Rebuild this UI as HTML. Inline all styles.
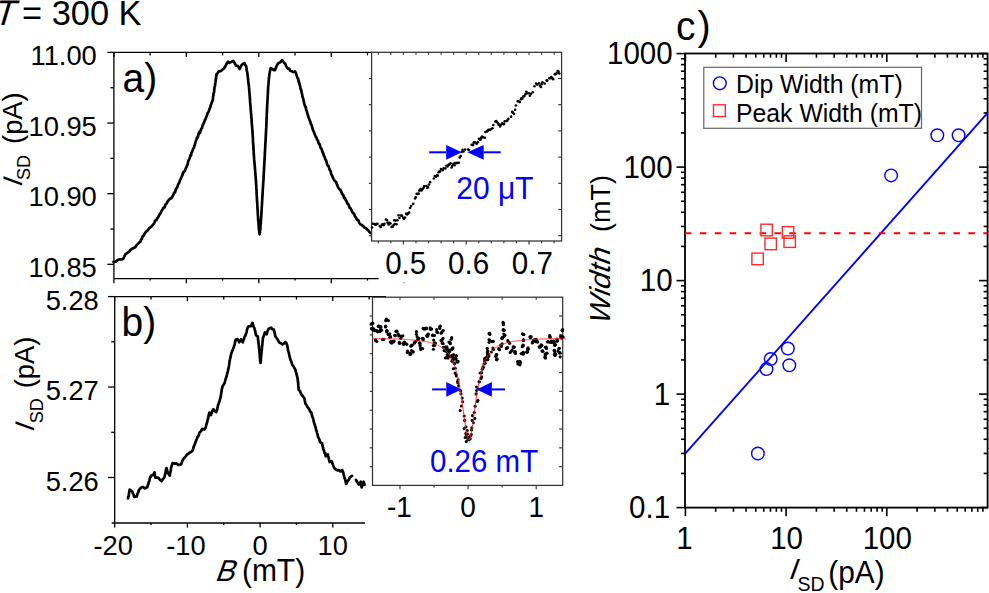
<!DOCTYPE html>
<html><head><meta charset="utf-8"><style>
html,body{margin:0;padding:0;background:#fff;overflow:hidden;}
svg{display:block;font-family:"Liberation Sans", sans-serif;}
</style></head><body>
<svg width="989" height="593" viewBox="0 0 989 593">
<line x1="113.90" y1="52.40" x2="371.80" y2="52.40" stroke="#000" stroke-width="1.4" />
<line x1="113.90" y1="52.40" x2="113.90" y2="278.60" stroke="#000" stroke-width="1.3" />
<line x1="113.90" y1="278.60" x2="378.60" y2="278.60" stroke="#000" stroke-width="1.3" />
<line x1="107.30" y1="52.40" x2="113.90" y2="52.40" stroke="#000" stroke-width="1.3" />
<line x1="107.30" y1="123.04" x2="113.90" y2="123.04" stroke="#000" stroke-width="1.3" />
<line x1="107.30" y1="193.67" x2="113.90" y2="193.67" stroke="#000" stroke-width="1.3" />
<line x1="107.30" y1="264.31" x2="113.90" y2="264.31" stroke="#000" stroke-width="1.3" />
<line x1="110.40" y1="87.72" x2="113.90" y2="87.72" stroke="#000" stroke-width="1.3" />
<line x1="110.40" y1="158.35" x2="113.90" y2="158.35" stroke="#000" stroke-width="1.3" />
<line x1="110.40" y1="228.99" x2="113.90" y2="228.99" stroke="#000" stroke-width="1.3" />
<line x1="113.90" y1="52.40" x2="113.90" y2="56.90" stroke="#000" stroke-width="1.3" />
<line x1="113.90" y1="278.60" x2="113.90" y2="283.20" stroke="#000" stroke-width="1.3" />
<line x1="150.12" y1="52.40" x2="150.12" y2="55.40" stroke="#000" stroke-width="1.3" />
<line x1="150.12" y1="278.60" x2="150.12" y2="280.60" stroke="#000" stroke-width="1.3" />
<line x1="186.35" y1="52.40" x2="186.35" y2="56.90" stroke="#000" stroke-width="1.3" />
<line x1="186.35" y1="278.60" x2="186.35" y2="283.20" stroke="#000" stroke-width="1.3" />
<line x1="222.57" y1="52.40" x2="222.57" y2="55.40" stroke="#000" stroke-width="1.3" />
<line x1="222.57" y1="278.60" x2="222.57" y2="280.60" stroke="#000" stroke-width="1.3" />
<line x1="258.80" y1="52.40" x2="258.80" y2="56.90" stroke="#000" stroke-width="1.3" />
<line x1="258.80" y1="278.60" x2="258.80" y2="283.20" stroke="#000" stroke-width="1.3" />
<line x1="295.02" y1="52.40" x2="295.02" y2="55.40" stroke="#000" stroke-width="1.3" />
<line x1="295.02" y1="278.60" x2="295.02" y2="280.60" stroke="#000" stroke-width="1.3" />
<line x1="331.25" y1="52.40" x2="331.25" y2="56.90" stroke="#000" stroke-width="1.3" />
<line x1="331.25" y1="278.60" x2="331.25" y2="283.20" stroke="#000" stroke-width="1.3" />
<line x1="367.48" y1="52.40" x2="367.48" y2="55.40" stroke="#000" stroke-width="1.3" />
<line x1="367.48" y1="278.60" x2="367.48" y2="280.60" stroke="#000" stroke-width="1.3" />
<text transform="translate(96.80,65.00) scale(1,1.04)" font-size="27.3" text-anchor="end" fill="#000" >11.00</text>
<text transform="translate(96.80,135.64) scale(1,1.04)" font-size="27.3" text-anchor="end" fill="#000" >10.95</text>
<text transform="translate(96.80,206.27) scale(1,1.04)" font-size="27.3" text-anchor="end" fill="#000" >10.90</text>
<text transform="translate(96.80,276.91) scale(1,1.04)" font-size="27.3" text-anchor="end" fill="#000" >10.85</text>
<text transform="translate(122.50,92.00) scale(1,1.04)" font-size="39" text-anchor="start" fill="#000" >a)</text>
<text transform="translate(21.90,187.90) rotate(-90) skewX(-20) scale(1,1.0)" font-size="27">I</text>
<text transform="translate(30.30,180.10) rotate(-90) scale(1,1.04)" font-size="18">SD</text>
<text transform="translate(22.20,143.90) rotate(-90)" font-size="27.3">(pA)</text>
<text transform="translate(-7.7,25.0) skewX(-16.5) scale(1,1.04)" font-size="34.4">T</text>
<text transform="translate(22.00,24.60) scale(1,1.04)" font-size="34.4" text-anchor="start" fill="#000" >= 300 K</text>
<polyline points="113.50,261.93 115.80,261.57 118.10,259.78 120.10,259.23 122.10,259.41 123.13,258.82 124.17,256.77 125.20,254.58 126.45,253.52 127.70,252.64 128.95,251.90 130.20,250.11 131.90,248.92 133.60,247.99 135.30,247.21 136.55,245.19 137.80,244.07 139.05,242.69 140.30,241.90 141.12,239.57 141.94,238.70 142.76,236.20 143.58,235.80 144.40,234.00 145.60,232.21 146.80,231.06 148.00,230.14 149.20,228.06 150.40,227.37 151.62,226.24 152.84,224.89 154.06,223.49 155.28,220.53 156.50,220.00 157.32,218.03 158.14,217.49 158.96,215.60 159.78,214.26 160.60,212.97 161.60,210.78 162.60,209.53 163.60,207.47 164.60,207.36 165.60,204.37 166.82,203.21 168.04,200.83 169.26,199.56 170.48,198.49 171.70,197.95 172.53,196.42 173.37,194.64 174.20,192.62 175.03,192.45 175.87,189.38 176.70,187.96 177.38,187.00 178.07,184.52 178.75,183.51 179.43,182.21 180.12,179.97 180.80,178.54 181.63,176.82 182.47,174.92 183.30,172.06 184.13,171.59 184.97,170.73 185.80,168.33 186.38,167.18 186.96,165.85 187.54,164.72 188.12,161.52 188.70,160.23 189.27,159.12 189.85,157.75 190.43,155.20 191.00,155.43 191.57,152.45 192.15,151.96 192.73,149.74 193.30,148.54 193.93,147.52 194.57,145.30 195.20,143.29 195.83,140.97 196.47,139.46 197.10,137.35 197.79,137.71 198.47,134.28 199.16,132.22 199.85,133.01 200.54,131.31 201.22,128.92 201.91,128.07 202.60,125.67 203.16,124.31 203.72,123.39 204.28,121.83 204.84,119.87 205.40,119.50 206.14,117.36 206.88,115.37 207.62,113.00 208.36,112.05 209.10,110.15 209.63,108.69 210.16,107.58 210.69,105.25 211.21,104.12 211.74,102.82 212.27,101.00 212.80,100.47 213.07,96.54 213.34,95.73 213.61,93.39 213.89,92.27 214.16,91.95 214.43,87.95 214.70,86.96 214.96,85.75 215.21,83.71 215.47,82.43 215.73,79.35 215.99,79.01 216.24,76.22 216.50,74.35 217.45,73.48 218.40,71.58 221.20,70.92 222.60,69.52 224.00,68.51 224.90,67.04 225.80,65.39 226.70,63.36 228.10,61.75 229.50,62.83 231.35,61.91 233.20,60.84 234.13,62.09 235.07,64.00 236.00,65.59 237.85,65.85 239.70,68.98 240.63,67.01 241.57,65.17 242.50,64.10 244.40,63.14 245.30,65.09 246.20,66.09 246.53,68.80 246.87,71.06 247.20,72.14 247.40,73.71 247.60,75.12 247.80,77.12 248.00,78.49 248.20,80.54 248.40,82.34 248.60,84.11 248.80,84.83 249.00,87.70 249.13,88.55 249.25,90.26 249.38,91.65 249.51,92.44 249.63,95.28 249.76,95.78 249.89,98.96 250.01,99.98 250.14,102.42 250.27,103.53 250.39,105.17 250.52,107.15 250.65,107.97 250.77,110.44 250.90,111.14 251.02,112.95 251.14,114.05 251.26,116.32 251.38,118.00 251.50,118.96 251.62,120.15 251.74,122.43 251.86,124.29 251.98,125.58 252.10,126.74 252.22,128.48 252.34,130.34 252.46,130.66 252.58,133.38 252.70,136.09 252.80,136.25 252.90,138.48 253.00,141.17 253.10,142.28 253.20,144.04 253.30,145.11 253.40,146.11 253.50,150.05 253.60,150.29 253.70,151.90 253.80,154.32 253.90,155.51 254.00,156.74 254.10,157.75 254.20,159.92 254.35,161.61 254.49,163.00 254.64,164.58 254.78,166.18 254.93,168.35 255.07,169.77 255.22,172.00 255.36,174.01 255.51,175.31 255.65,176.83 255.80,179.36 255.89,180.52 255.98,181.00 256.08,183.07 256.17,185.23 256.26,186.29 256.35,188.84 256.45,189.12 256.54,190.69 256.63,193.92 256.72,195.36 256.82,195.82 256.91,198.39 257.00,200.74 257.10,201.09 257.20,202.75 257.30,204.44 257.40,206.26 257.50,207.55 257.60,209.94 257.70,211.11 257.80,213.64 257.90,216.53 258.00,216.43 258.12,219.12 258.25,220.89 258.38,220.61 258.50,223.56 258.62,225.12 258.75,226.57 258.88,228.81 259.00,229.76 259.30,232.49 259.60,234.39 259.90,232.23 260.20,229.57 260.32,229.62 260.45,226.72 260.57,224.51 260.70,224.57 260.82,222.74 260.95,220.14 261.07,218.27 261.20,216.60 261.30,215.95 261.40,213.37 261.50,211.43 261.60,210.55 261.70,208.22 261.80,206.61 261.90,205.97 262.00,203.66 262.10,202.14 262.20,199.96 262.30,198.71 262.40,196.28 262.50,195.28 262.60,193.70 262.70,191.28 262.80,189.17 262.90,188.54 263.00,186.56 263.10,185.33 263.20,183.05 263.30,182.04 263.40,180.65 263.50,179.80 263.59,177.80 263.69,175.36 263.78,174.25 263.87,171.44 263.96,170.75 264.06,168.51 264.15,167.48 264.24,165.26 264.34,163.27 264.43,161.33 264.52,160.72 264.61,158.39 264.71,157.07 264.80,155.26 264.89,152.24 264.97,152.04 265.06,149.86 265.15,148.63 265.23,147.03 265.32,144.13 265.41,143.30 265.49,141.79 265.58,140.39 265.67,139.05 265.75,136.51 265.84,135.11 265.93,133.94 266.01,130.94 266.10,131.32 266.17,128.10 266.25,127.65 266.32,125.32 266.39,124.59 266.47,122.44 266.54,120.16 266.61,117.57 266.69,116.88 266.76,115.30 266.83,113.73 266.91,111.06 266.98,109.61 267.05,107.95 267.13,106.84 267.20,104.53 267.29,103.29 267.38,102.23 267.48,99.85 267.57,99.17 267.66,96.95 267.75,95.02 267.84,94.11 267.93,92.14 268.02,90.07 268.12,88.26 268.21,86.92 268.30,85.49 268.47,84.17 268.64,81.93 268.81,79.69 268.99,77.55 269.16,76.65 269.33,74.97 269.50,73.62 269.97,70.95 270.43,68.76 270.90,68.16 272.50,69.21 274.10,70.24 274.90,70.21 275.70,68.19 276.50,66.14 277.30,64.65 278.90,62.69 280.50,62.24 282.10,60.06 283.17,61.45 284.23,62.94 285.30,63.88 286.26,66.34 287.22,67.97 288.18,68.76 289.14,68.50 290.10,70.73 291.73,71.09 293.37,72.17 295.00,71.33 295.80,72.92 296.60,75.45 297.40,77.84 298.20,78.80 298.60,81.71 299.00,81.64 299.40,83.72 299.80,85.22 300.20,86.45 300.60,89.11 301.00,89.38 301.40,91.12 301.80,93.12 302.20,94.66 302.60,97.16 303.00,97.86 303.40,100.04 303.80,101.12 304.20,103.69 304.60,104.59 305.13,106.38 305.66,106.99 306.19,109.91 306.72,110.81 307.25,113.29 307.78,114.72 308.31,116.38 308.84,118.34 309.37,119.57 309.90,120.52 310.53,122.80 311.16,124.52 311.79,125.50 312.41,128.19 313.04,130.37 313.67,131.42 314.30,133.06 314.98,134.77 315.65,136.63 316.32,137.24 317.00,139.57 317.68,140.16 318.35,142.37 319.02,143.87 319.70,144.40 320.33,147.03 320.96,148.36 321.59,148.90 322.21,151.14 322.84,152.62 323.47,154.04 324.10,156.33 324.73,157.23 325.36,159.24 325.99,160.18 326.61,162.19 327.24,164.88 327.87,165.67 328.50,166.15 329.19,168.14 329.88,170.22 330.56,171.06 331.25,174.13 331.94,175.23 332.62,176.86 333.31,178.58 334.00,179.83 334.94,181.13 335.89,181.62 336.83,183.99 337.77,186.56 338.71,188.36 339.66,189.44 340.60,190.10 341.48,192.46 342.36,194.20 343.24,195.01 344.12,198.01 345.00,198.19 345.77,200.21 346.54,201.03 347.31,203.54 348.09,203.77 348.86,205.38 349.63,207.89 350.40,208.01 351.32,209.87 352.23,211.93 353.15,213.29 354.07,213.61 354.98,216.36 355.90,217.34 357.00,219.79 358.10,219.80 359.20,222.79 360.30,224.22 361.68,224.89 363.05,225.97 364.43,227.51 365.80,228.02 367.00,229.36 368.20,230.28 369.40,231.92 370.60,233.00" fill="none" stroke="#000" stroke-width="2.7" stroke-linejoin="round" stroke-linecap="round" />
<line x1="114.70" y1="296.60" x2="386.00" y2="296.60" stroke="#000" stroke-width="1.4" />
<line x1="114.70" y1="296.60" x2="114.70" y2="523.00" stroke="#000" stroke-width="1.3" />
<line x1="111.70" y1="523.00" x2="365.00" y2="523.00" stroke="#000" stroke-width="1.3" />
<line x1="108.10" y1="296.60" x2="114.70" y2="296.60" stroke="#000" stroke-width="1.3" />
<line x1="108.10" y1="387.05" x2="114.70" y2="387.05" stroke="#000" stroke-width="1.3" />
<line x1="108.10" y1="477.50" x2="114.70" y2="477.50" stroke="#000" stroke-width="1.3" />
<line x1="111.20" y1="341.82" x2="114.70" y2="341.82" stroke="#000" stroke-width="1.3" />
<line x1="111.20" y1="432.28" x2="114.70" y2="432.28" stroke="#000" stroke-width="1.3" />
<line x1="114.70" y1="296.60" x2="114.70" y2="301.10" stroke="#000" stroke-width="1.3" />
<line x1="114.70" y1="523.00" x2="114.70" y2="527.60" stroke="#000" stroke-width="1.3" />
<line x1="151.05" y1="296.60" x2="151.05" y2="299.60" stroke="#000" stroke-width="1.3" />
<line x1="151.05" y1="523.00" x2="151.05" y2="525.00" stroke="#000" stroke-width="1.3" />
<line x1="187.40" y1="296.60" x2="187.40" y2="301.10" stroke="#000" stroke-width="1.3" />
<line x1="187.40" y1="523.00" x2="187.40" y2="527.60" stroke="#000" stroke-width="1.3" />
<line x1="223.75" y1="296.60" x2="223.75" y2="299.60" stroke="#000" stroke-width="1.3" />
<line x1="223.75" y1="523.00" x2="223.75" y2="525.00" stroke="#000" stroke-width="1.3" />
<line x1="260.10" y1="296.60" x2="260.10" y2="301.10" stroke="#000" stroke-width="1.3" />
<line x1="260.10" y1="523.00" x2="260.10" y2="527.60" stroke="#000" stroke-width="1.3" />
<line x1="296.45" y1="296.60" x2="296.45" y2="299.60" stroke="#000" stroke-width="1.3" />
<line x1="296.45" y1="523.00" x2="296.45" y2="525.00" stroke="#000" stroke-width="1.3" />
<line x1="332.80" y1="296.60" x2="332.80" y2="301.10" stroke="#000" stroke-width="1.3" />
<line x1="332.80" y1="523.00" x2="332.80" y2="527.60" stroke="#000" stroke-width="1.3" />
<line x1="369.15" y1="296.60" x2="369.15" y2="299.60" stroke="#000" stroke-width="1.3" />
<text transform="translate(98.80,309.80) scale(1,1.04)" font-size="27.3" text-anchor="end" fill="#000" >5.28</text>
<text transform="translate(98.80,400.25) scale(1,1.04)" font-size="27.3" text-anchor="end" fill="#000" >5.27</text>
<text transform="translate(98.80,490.70) scale(1,1.04)" font-size="27.3" text-anchor="end" fill="#000" >5.26</text>
<text transform="translate(121.50,336.00) scale(1,1.04)" font-size="39" text-anchor="start" fill="#000" >b</text>
<text transform="translate(143.20,336.00) scale(1,1.04)" font-size="39" text-anchor="start" fill="#000" >)</text>
<text transform="translate(33.90,432.90) rotate(-90) skewX(-20) scale(1,1.0)" font-size="27">I</text>
<text transform="translate(42.50,423.30) rotate(-90) scale(1,1.04)" font-size="18">SD</text>
<text transform="translate(34.30,388.30) rotate(-90)" font-size="27.3">(pA)</text>
<text transform="translate(113.20,555.00) scale(1,1.04)" font-size="27.3" text-anchor="middle" fill="#000" >-20</text>
<text transform="translate(185.90,555.00) scale(1,1.04)" font-size="27.3" text-anchor="middle" fill="#000" >-10</text>
<text transform="translate(260.10,555.00) scale(1,1.04)" font-size="27.3" text-anchor="middle" fill="#000" >0</text>
<text transform="translate(332.80,555.00) scale(1,1.04)" font-size="27.3" text-anchor="middle" fill="#000" >10</text>
<text transform="translate(214.3,580.5) skewX(-20) scale(1,1.04)" font-size="29">B</text>
<text transform="translate(241.90,580.80) scale(1,1.04)" font-size="30" text-anchor="start" fill="#000" >(mT)</text>
<polyline points="128.00,498.44 128.34,496.38 128.68,496.30 129.02,493.16 129.36,491.25 129.70,489.61 131.05,490.46 132.40,491.66 133.00,493.75 133.60,494.79 134.20,496.88 136.80,496.40 137.34,494.24 137.88,493.04 138.42,491.84 138.96,489.88 139.50,489.36 140.80,487.91 142.10,487.14 143.45,487.19 144.80,488.39 146.10,487.87 147.40,487.05 147.85,484.75 148.30,484.48 148.75,482.01 149.20,481.40 149.65,479.23 150.10,477.70 151.00,475.96 151.90,475.14 153.20,475.03 154.50,472.30 154.95,475.52 155.40,477.63 158.10,477.72 159.85,479.73 161.60,481.16 162.90,479.06 164.20,477.65 164.57,476.79 164.93,474.80 165.30,474.00 165.67,471.57 166.03,469.19 166.40,468.08 166.87,469.04 167.33,471.46 167.80,472.93 168.70,474.16 169.60,475.68 169.94,474.76 170.28,472.40 170.62,471.40 170.96,468.60 171.30,467.17 171.90,465.24 172.50,463.21 173.10,463.19 174.85,463.60 176.60,463.41 178.40,464.98 180.20,464.65 180.90,464.67 181.60,463.17 182.30,461.08 183.00,459.66 183.70,458.52 184.80,457.52 185.90,456.03 187.00,454.70 188.10,453.88 189.60,452.60 191.10,451.97 192.60,450.44 193.18,448.90 193.77,446.38 194.35,445.37 194.93,443.75 195.52,442.08 196.10,440.65 196.80,438.96 197.50,436.78 198.20,436.35 198.90,434.74 199.60,432.46 200.95,431.25 202.30,428.77 204.60,429.51 205.12,428.46 205.65,427.74 206.17,425.41 206.70,423.19 207.09,422.51 207.47,420.61 207.86,419.03 208.24,418.02 208.63,415.51 209.01,413.98 209.40,412.62 210.90,415.03 211.55,413.16 212.20,411.43 212.85,409.99 213.50,409.23 214.85,411.26 216.20,412.07 216.65,410.79 217.10,410.04 217.55,407.46 218.00,405.26 218.52,403.98 219.04,402.27 219.56,400.94 220.08,399.19 220.60,397.19 220.86,395.72 221.11,394.32 221.37,392.17 221.63,390.89 221.89,388.78 222.14,388.15 222.40,386.66 224.20,383.71 224.63,383.04 225.07,381.24 225.50,379.72 225.93,378.07 226.37,376.83 226.80,375.70 227.25,372.90 227.70,372.20 228.15,369.85 228.60,367.71 228.82,366.65 229.05,365.43 229.28,363.53 229.50,362.16 229.80,360.38 230.10,358.81 230.40,358.05 230.70,355.65 231.00,355.08 231.30,353.28 232.15,351.19 233.00,349.42 233.45,347.92 233.90,346.58 234.35,345.10 234.80,343.59 235.25,341.28 235.70,339.73 237.50,339.09 238.35,340.43 239.20,342.26 240.10,341.10 241.00,339.31 242.80,342.35 243.45,340.08 244.10,338.44 244.75,336.48 245.40,335.84 245.85,334.22 246.30,333.02 246.75,331.20 247.20,328.85 248.10,326.83 249.00,326.27 250.80,326.21 251.65,324.73 252.50,322.95 253.10,325.03 253.70,326.82 254.30,327.84 254.75,329.80 255.20,331.07 255.65,333.91 256.10,335.35 257.80,336.34 257.99,339.27 258.18,340.46 258.36,341.64 258.55,343.58 258.74,345.17 258.93,347.15 259.11,348.86 259.30,350.16 259.45,352.29 259.60,352.54 259.75,355.26 259.90,357.38 260.05,359.18 260.20,360.78 260.35,361.58 260.50,362.94 260.65,361.91 260.80,361.46 260.95,358.86 261.10,356.73 261.25,354.64 261.40,353.82 261.55,351.88 261.70,350.66 261.87,348.95 262.03,346.20 262.20,345.67 262.37,344.52 262.53,342.32 262.70,340.47 262.87,338.92 263.03,337.28 263.20,337.34 264.05,335.18 264.90,332.44 266.70,334.26 267.30,331.66 267.90,330.44 268.50,328.88 269.80,328.23 271.10,327.73 272.45,329.26 273.80,329.56 274.16,330.75 274.52,332.45 274.88,333.86 275.24,335.71 275.60,336.72 277.30,339.04 278.20,340.60 279.10,342.29 280.00,342.94 282.60,344.41 283.95,343.50 285.30,342.14 286.20,342.91 287.10,344.86 287.44,347.12 287.78,348.19 288.12,350.97 288.46,351.78 288.80,352.79 289.25,354.85 289.70,356.88 290.15,358.66 290.60,360.11 291.50,362.20 292.40,365.11 293.30,365.94 293.95,367.14 294.60,368.40 295.25,369.35 295.90,371.80 296.35,373.30 296.80,375.25 297.25,376.79 297.70,379.17 297.84,380.87 297.99,381.61 298.13,382.86 298.27,385.19 298.41,387.24 298.56,388.35 298.70,389.94 299.67,390.67 300.63,392.66 301.60,394.78 302.57,395.99 303.53,397.11 304.50,398.68 304.83,400.74 305.17,402.32 305.50,403.89 306.47,404.87 307.43,406.91 308.40,408.04 309.37,409.63 310.33,411.82 311.30,412.61 311.77,414.49 312.25,416.61 312.73,417.61 313.20,418.73 313.70,421.16 314.20,423.49 314.70,424.54 315.20,426.40 315.68,427.37 316.15,430.46 316.62,430.81 317.10,433.01 317.58,434.68 318.07,437.10 318.55,437.72 319.03,438.79 319.52,439.88 320.00,441.87 322.00,443.35 322.48,445.33 322.95,447.34 323.42,449.57 323.90,450.21 324.53,452.94 325.17,453.03 325.80,456.40 327.80,454.32 328.18,455.98 328.56,457.48 328.94,459.34 329.32,460.75 329.70,462.16 331.60,461.09 332.20,462.70 332.80,464.52 333.40,465.79 334.00,467.26 334.60,468.45 336.05,469.63 337.50,470.34 338.95,470.10 340.40,471.47 342.30,470.10 342.77,471.61 343.25,472.24 343.73,474.74 344.20,476.49 344.60,478.34 345.00,478.71 345.40,480.51 345.80,482.41 346.20,483.85 347.15,481.87 348.10,480.74 349.05,479.26 350.00,477.17 352.00,475.90" fill="none" stroke="#000" stroke-width="2.7" stroke-linejoin="round" stroke-linecap="round" />
<polyline points="355.90,479.80 358.80,484.60 360.70,481.70 361.70,487.50 363.60,481.70 364.60,484.60" fill="none" stroke="#000" stroke-width="2.7" stroke-linejoin="round" stroke-linecap="round" />
<rect x="371.6" y="52.3" width="190.0" height="188.7" fill="#fff" stroke="#333" stroke-width="1.25"/>
<line x1="378.28" y1="52.30" x2="378.28" y2="54.80" stroke="#333" stroke-width="1.15" />
<line x1="378.28" y1="241.00" x2="378.28" y2="243.20" stroke="#333" stroke-width="1.15" />
<line x1="390.84" y1="52.30" x2="390.84" y2="54.80" stroke="#333" stroke-width="1.15" />
<line x1="390.84" y1="241.00" x2="390.84" y2="243.20" stroke="#333" stroke-width="1.15" />
<line x1="403.40" y1="52.30" x2="403.40" y2="54.80" stroke="#333" stroke-width="1.15" />
<line x1="403.40" y1="241.00" x2="403.40" y2="244.50" stroke="#333" stroke-width="1.15" />
<line x1="415.96" y1="52.30" x2="415.96" y2="54.80" stroke="#333" stroke-width="1.15" />
<line x1="415.96" y1="241.00" x2="415.96" y2="243.20" stroke="#333" stroke-width="1.15" />
<line x1="428.52" y1="52.30" x2="428.52" y2="54.80" stroke="#333" stroke-width="1.15" />
<line x1="428.52" y1="241.00" x2="428.52" y2="243.20" stroke="#333" stroke-width="1.15" />
<line x1="441.08" y1="52.30" x2="441.08" y2="54.80" stroke="#333" stroke-width="1.15" />
<line x1="441.08" y1="241.00" x2="441.08" y2="243.20" stroke="#333" stroke-width="1.15" />
<line x1="453.64" y1="52.30" x2="453.64" y2="54.80" stroke="#333" stroke-width="1.15" />
<line x1="453.64" y1="241.00" x2="453.64" y2="243.20" stroke="#333" stroke-width="1.15" />
<line x1="466.20" y1="52.30" x2="466.20" y2="54.80" stroke="#333" stroke-width="1.15" />
<line x1="466.20" y1="241.00" x2="466.20" y2="244.50" stroke="#333" stroke-width="1.15" />
<line x1="478.76" y1="52.30" x2="478.76" y2="54.80" stroke="#333" stroke-width="1.15" />
<line x1="478.76" y1="241.00" x2="478.76" y2="243.20" stroke="#333" stroke-width="1.15" />
<line x1="491.32" y1="52.30" x2="491.32" y2="54.80" stroke="#333" stroke-width="1.15" />
<line x1="491.32" y1="241.00" x2="491.32" y2="243.20" stroke="#333" stroke-width="1.15" />
<line x1="503.88" y1="52.30" x2="503.88" y2="54.80" stroke="#333" stroke-width="1.15" />
<line x1="503.88" y1="241.00" x2="503.88" y2="243.20" stroke="#333" stroke-width="1.15" />
<line x1="516.44" y1="52.30" x2="516.44" y2="54.80" stroke="#333" stroke-width="1.15" />
<line x1="516.44" y1="241.00" x2="516.44" y2="243.20" stroke="#333" stroke-width="1.15" />
<line x1="529.00" y1="52.30" x2="529.00" y2="54.80" stroke="#333" stroke-width="1.15" />
<line x1="529.00" y1="241.00" x2="529.00" y2="244.50" stroke="#333" stroke-width="1.15" />
<line x1="541.56" y1="52.30" x2="541.56" y2="54.80" stroke="#333" stroke-width="1.15" />
<line x1="541.56" y1="241.00" x2="541.56" y2="243.20" stroke="#333" stroke-width="1.15" />
<line x1="554.12" y1="52.30" x2="554.12" y2="54.80" stroke="#333" stroke-width="1.15" />
<line x1="554.12" y1="241.00" x2="554.12" y2="243.20" stroke="#333" stroke-width="1.15" />
<line x1="368.80" y1="78.50" x2="371.60" y2="78.50" stroke="#333" stroke-width="1.15" />
<line x1="558.20" y1="78.50" x2="561.60" y2="78.50" stroke="#333" stroke-width="1.15" />
<line x1="368.80" y1="104.70" x2="371.60" y2="104.70" stroke="#333" stroke-width="1.15" />
<line x1="558.20" y1="104.70" x2="561.60" y2="104.70" stroke="#333" stroke-width="1.15" />
<line x1="368.80" y1="130.90" x2="371.60" y2="130.90" stroke="#333" stroke-width="1.15" />
<line x1="558.20" y1="130.90" x2="561.60" y2="130.90" stroke="#333" stroke-width="1.15" />
<line x1="368.80" y1="157.10" x2="371.60" y2="157.10" stroke="#333" stroke-width="1.15" />
<line x1="558.20" y1="157.10" x2="561.60" y2="157.10" stroke="#333" stroke-width="1.15" />
<line x1="368.80" y1="183.30" x2="371.60" y2="183.30" stroke="#333" stroke-width="1.15" />
<line x1="558.20" y1="183.30" x2="561.60" y2="183.30" stroke="#333" stroke-width="1.15" />
<line x1="368.80" y1="209.50" x2="371.60" y2="209.50" stroke="#333" stroke-width="1.15" />
<line x1="558.20" y1="209.50" x2="561.60" y2="209.50" stroke="#333" stroke-width="1.15" />
<line x1="368.80" y1="235.70" x2="371.60" y2="235.70" stroke="#333" stroke-width="1.15" />
<line x1="558.20" y1="235.70" x2="561.60" y2="235.70" stroke="#333" stroke-width="1.15" />
<text transform="translate(405.70,274.00) scale(1,1.04)" font-size="29.6" text-anchor="middle" fill="#000" >0.5</text>
<text transform="translate(468.60,274.00) scale(1,1.04)" font-size="29.6" text-anchor="middle" fill="#000" >0.6</text>
<text transform="translate(532.30,274.00) scale(1,1.04)" font-size="29.6" text-anchor="middle" fill="#000" >0.7</text>
<circle cx="372.00" cy="227.50" r="1.3" fill="#000"/>
<circle cx="373.17" cy="223.84" r="1.3" fill="#000"/>
<circle cx="374.71" cy="224.09" r="1.3" fill="#000"/>
<circle cx="375.66" cy="224.81" r="1.3" fill="#000"/>
<circle cx="376.81" cy="224.11" r="1.3" fill="#000"/>
<circle cx="377.49" cy="223.86" r="1.3" fill="#000"/>
<circle cx="379.74" cy="226.00" r="1.3" fill="#000"/>
<circle cx="380.74" cy="227.06" r="1.3" fill="#000"/>
<circle cx="381.92" cy="224.66" r="1.3" fill="#000"/>
<circle cx="382.62" cy="224.52" r="1.3" fill="#000"/>
<circle cx="383.58" cy="225.29" r="1.3" fill="#000"/>
<circle cx="384.37" cy="223.70" r="1.3" fill="#000"/>
<circle cx="385.87" cy="219.46" r="1.3" fill="#000"/>
<circle cx="386.95" cy="220.08" r="1.3" fill="#000"/>
<circle cx="387.57" cy="222.65" r="1.3" fill="#000"/>
<circle cx="388.63" cy="224.39" r="1.3" fill="#000"/>
<circle cx="389.44" cy="222.79" r="1.3" fill="#000"/>
<circle cx="390.49" cy="223.52" r="1.3" fill="#000"/>
<circle cx="391.66" cy="226.90" r="1.3" fill="#000"/>
<circle cx="392.81" cy="226.54" r="1.3" fill="#000"/>
<circle cx="393.59" cy="224.93" r="1.3" fill="#000"/>
<circle cx="394.28" cy="220.20" r="1.3" fill="#000"/>
<circle cx="394.91" cy="223.95" r="1.3" fill="#000"/>
<circle cx="395.66" cy="220.59" r="1.3" fill="#000"/>
<circle cx="396.51" cy="224.22" r="1.3" fill="#000"/>
<circle cx="397.40" cy="220.28" r="1.3" fill="#000"/>
<circle cx="398.57" cy="215.37" r="1.3" fill="#000"/>
<circle cx="399.44" cy="218.01" r="1.3" fill="#000"/>
<circle cx="401.18" cy="215.63" r="1.3" fill="#000"/>
<circle cx="401.95" cy="215.68" r="1.3" fill="#000"/>
<circle cx="403.15" cy="217.79" r="1.3" fill="#000"/>
<circle cx="403.95" cy="218.96" r="1.3" fill="#000"/>
<circle cx="405.07" cy="217.63" r="1.3" fill="#000"/>
<circle cx="406.09" cy="213.65" r="1.3" fill="#000"/>
<circle cx="407.11" cy="214.48" r="1.3" fill="#000"/>
<circle cx="408.12" cy="213.53" r="1.3" fill="#000"/>
<circle cx="409.07" cy="212.50" r="1.3" fill="#000"/>
<circle cx="410.08" cy="207.93" r="1.3" fill="#000"/>
<circle cx="411.15" cy="206.07" r="1.3" fill="#000"/>
<circle cx="413.26" cy="203.83" r="1.3" fill="#000"/>
<circle cx="415.07" cy="198.39" r="1.3" fill="#000"/>
<circle cx="415.77" cy="197.21" r="1.3" fill="#000"/>
<circle cx="416.62" cy="193.72" r="1.3" fill="#000"/>
<circle cx="417.66" cy="193.97" r="1.3" fill="#000"/>
<circle cx="418.65" cy="193.64" r="1.3" fill="#000"/>
<circle cx="419.27" cy="190.59" r="1.3" fill="#000"/>
<circle cx="419.95" cy="190.30" r="1.3" fill="#000"/>
<circle cx="420.57" cy="188.75" r="1.3" fill="#000"/>
<circle cx="421.53" cy="190.43" r="1.3" fill="#000"/>
<circle cx="422.37" cy="189.32" r="1.3" fill="#000"/>
<circle cx="423.47" cy="188.07" r="1.3" fill="#000"/>
<circle cx="424.13" cy="186.39" r="1.3" fill="#000"/>
<circle cx="426.29" cy="185.98" r="1.3" fill="#000"/>
<circle cx="427.22" cy="188.03" r="1.3" fill="#000"/>
<circle cx="428.04" cy="187.10" r="1.3" fill="#000"/>
<circle cx="428.97" cy="184.55" r="1.3" fill="#000"/>
<circle cx="430.11" cy="182.13" r="1.3" fill="#000"/>
<circle cx="433.83" cy="178.43" r="1.3" fill="#000"/>
<circle cx="434.80" cy="175.94" r="1.3" fill="#000"/>
<circle cx="435.89" cy="176.70" r="1.3" fill="#000"/>
<circle cx="437.06" cy="175.06" r="1.3" fill="#000"/>
<circle cx="437.75" cy="175.67" r="1.3" fill="#000"/>
<circle cx="438.63" cy="172.22" r="1.3" fill="#000"/>
<circle cx="439.30" cy="171.56" r="1.3" fill="#000"/>
<circle cx="440.11" cy="171.39" r="1.3" fill="#000"/>
<circle cx="440.92" cy="169.10" r="1.3" fill="#000"/>
<circle cx="442.60" cy="170.23" r="1.3" fill="#000"/>
<circle cx="443.55" cy="168.42" r="1.3" fill="#000"/>
<circle cx="445.41" cy="168.42" r="1.3" fill="#000"/>
<circle cx="446.51" cy="165.74" r="1.3" fill="#000"/>
<circle cx="447.58" cy="166.56" r="1.3" fill="#000"/>
<circle cx="448.51" cy="164.89" r="1.3" fill="#000"/>
<circle cx="449.46" cy="164.38" r="1.3" fill="#000"/>
<circle cx="450.55" cy="163.31" r="1.3" fill="#000"/>
<circle cx="451.59" cy="167.52" r="1.3" fill="#000"/>
<circle cx="452.22" cy="165.92" r="1.3" fill="#000"/>
<circle cx="453.39" cy="163.88" r="1.3" fill="#000"/>
<circle cx="454.54" cy="165.19" r="1.3" fill="#000"/>
<circle cx="455.24" cy="163.07" r="1.3" fill="#000"/>
<circle cx="456.06" cy="163.22" r="1.3" fill="#000"/>
<circle cx="457.11" cy="162.89" r="1.3" fill="#000"/>
<circle cx="458.72" cy="162.75" r="1.3" fill="#000"/>
<circle cx="459.70" cy="157.44" r="1.3" fill="#000"/>
<circle cx="460.67" cy="156.10" r="1.3" fill="#000"/>
<circle cx="461.72" cy="151.94" r="1.3" fill="#000"/>
<circle cx="462.55" cy="149.83" r="1.3" fill="#000"/>
<circle cx="463.54" cy="151.46" r="1.3" fill="#000"/>
<circle cx="465.10" cy="149.56" r="1.3" fill="#000"/>
<circle cx="468.15" cy="149.53" r="1.3" fill="#000"/>
<circle cx="468.96" cy="150.05" r="1.3" fill="#000"/>
<circle cx="471.67" cy="144.78" r="1.3" fill="#000"/>
<circle cx="472.50" cy="144.99" r="1.3" fill="#000"/>
<circle cx="473.13" cy="144.91" r="1.3" fill="#000"/>
<circle cx="473.73" cy="142.51" r="1.3" fill="#000"/>
<circle cx="474.59" cy="142.31" r="1.3" fill="#000"/>
<circle cx="475.97" cy="143.07" r="1.3" fill="#000"/>
<circle cx="476.74" cy="143.77" r="1.3" fill="#000"/>
<circle cx="477.90" cy="142.13" r="1.3" fill="#000"/>
<circle cx="478.90" cy="138.73" r="1.3" fill="#000"/>
<circle cx="479.90" cy="139.77" r="1.3" fill="#000"/>
<circle cx="480.60" cy="139.54" r="1.3" fill="#000"/>
<circle cx="481.25" cy="137.84" r="1.3" fill="#000"/>
<circle cx="482.04" cy="136.49" r="1.3" fill="#000"/>
<circle cx="483.07" cy="137.34" r="1.3" fill="#000"/>
<circle cx="484.84" cy="137.73" r="1.3" fill="#000"/>
<circle cx="485.46" cy="131.95" r="1.3" fill="#000"/>
<circle cx="487.17" cy="131.42" r="1.3" fill="#000"/>
<circle cx="487.80" cy="130.46" r="1.3" fill="#000"/>
<circle cx="488.64" cy="129.83" r="1.3" fill="#000"/>
<circle cx="489.82" cy="130.06" r="1.3" fill="#000"/>
<circle cx="490.74" cy="129.18" r="1.3" fill="#000"/>
<circle cx="492.40" cy="128.31" r="1.3" fill="#000"/>
<circle cx="493.34" cy="125.07" r="1.3" fill="#000"/>
<circle cx="495.22" cy="121.52" r="1.3" fill="#000"/>
<circle cx="496.29" cy="121.14" r="1.3" fill="#000"/>
<circle cx="496.93" cy="122.31" r="1.3" fill="#000"/>
<circle cx="497.88" cy="122.98" r="1.3" fill="#000"/>
<circle cx="498.51" cy="124.70" r="1.3" fill="#000"/>
<circle cx="499.17" cy="124.67" r="1.3" fill="#000"/>
<circle cx="500.10" cy="126.40" r="1.3" fill="#000"/>
<circle cx="501.05" cy="124.70" r="1.3" fill="#000"/>
<circle cx="502.22" cy="123.34" r="1.3" fill="#000"/>
<circle cx="503.31" cy="124.19" r="1.3" fill="#000"/>
<circle cx="504.01" cy="124.00" r="1.3" fill="#000"/>
<circle cx="504.65" cy="121.42" r="1.3" fill="#000"/>
<circle cx="506.45" cy="120.97" r="1.3" fill="#000"/>
<circle cx="507.26" cy="120.57" r="1.3" fill="#000"/>
<circle cx="508.36" cy="118.90" r="1.3" fill="#000"/>
<circle cx="511.02" cy="116.67" r="1.3" fill="#000"/>
<circle cx="512.18" cy="111.90" r="1.3" fill="#000"/>
<circle cx="512.84" cy="112.64" r="1.3" fill="#000"/>
<circle cx="514.03" cy="114.05" r="1.3" fill="#000"/>
<circle cx="515.16" cy="109.79" r="1.3" fill="#000"/>
<circle cx="515.88" cy="105.49" r="1.3" fill="#000"/>
<circle cx="517.73" cy="101.26" r="1.3" fill="#000"/>
<circle cx="518.41" cy="101.13" r="1.3" fill="#000"/>
<circle cx="519.83" cy="102.09" r="1.3" fill="#000"/>
<circle cx="520.95" cy="99.24" r="1.3" fill="#000"/>
<circle cx="521.56" cy="98.17" r="1.3" fill="#000"/>
<circle cx="522.39" cy="98.49" r="1.3" fill="#000"/>
<circle cx="523.22" cy="96.56" r="1.3" fill="#000"/>
<circle cx="524.41" cy="96.10" r="1.3" fill="#000"/>
<circle cx="525.41" cy="94.23" r="1.3" fill="#000"/>
<circle cx="526.37" cy="91.76" r="1.3" fill="#000"/>
<circle cx="527.02" cy="93.25" r="1.3" fill="#000"/>
<circle cx="528.84" cy="93.24" r="1.3" fill="#000"/>
<circle cx="529.84" cy="95.74" r="1.3" fill="#000"/>
<circle cx="530.94" cy="93.92" r="1.3" fill="#000"/>
<circle cx="532.78" cy="92.30" r="1.3" fill="#000"/>
<circle cx="534.45" cy="86.25" r="1.3" fill="#000"/>
<circle cx="536.11" cy="83.47" r="1.3" fill="#000"/>
<circle cx="537.25" cy="84.62" r="1.3" fill="#000"/>
<circle cx="539.11" cy="83.36" r="1.3" fill="#000"/>
<circle cx="540.03" cy="85.79" r="1.3" fill="#000"/>
<circle cx="540.99" cy="87.01" r="1.3" fill="#000"/>
<circle cx="541.66" cy="84.21" r="1.3" fill="#000"/>
<circle cx="542.38" cy="82.19" r="1.3" fill="#000"/>
<circle cx="544.59" cy="83.43" r="1.3" fill="#000"/>
<circle cx="546.63" cy="80.42" r="1.3" fill="#000"/>
<circle cx="547.29" cy="80.67" r="1.3" fill="#000"/>
<circle cx="549.37" cy="78.30" r="1.3" fill="#000"/>
<circle cx="550.55" cy="78.19" r="1.3" fill="#000"/>
<circle cx="551.27" cy="76.99" r="1.3" fill="#000"/>
<circle cx="552.32" cy="78.10" r="1.3" fill="#000"/>
<circle cx="553.14" cy="79.32" r="1.3" fill="#000"/>
<circle cx="554.80" cy="74.14" r="1.3" fill="#000"/>
<circle cx="555.47" cy="74.19" r="1.3" fill="#000"/>
<circle cx="556.62" cy="73.30" r="1.3" fill="#000"/>
<circle cx="557.63" cy="70.95" r="1.3" fill="#000"/>
<circle cx="558.44" cy="71.65" r="1.3" fill="#000"/>
<circle cx="559.29" cy="73.54" r="1.3" fill="#000"/>
<line x1="429.20" y1="152.30" x2="446.20" y2="152.30" stroke="#0000ff" stroke-width="2.0" />
<polygon points="446.20,144.90 461.80,152.30 446.20,159.70" fill="#0000ff"/>
<line x1="483.70" y1="152.30" x2="500.70" y2="152.30" stroke="#0000ff" stroke-width="2.0" />
<polygon points="483.70,144.90 467.40,152.30 483.70,159.70" fill="#0000ff"/>
<text transform="translate(456.20,199.20) scale(1,1.04)" font-size="30" text-anchor="start" fill="#0000ff" >20 μT</text>
<rect x="372.5" y="297.2" width="190.20000000000005" height="188.2" fill="#fff" stroke="#333" stroke-width="1.25"/>
<line x1="400.00" y1="297.20" x2="400.00" y2="299.70" stroke="#333" stroke-width="1.15" />
<line x1="400.00" y1="485.40" x2="400.00" y2="489.20" stroke="#333" stroke-width="1.15" />
<line x1="434.05" y1="297.20" x2="434.05" y2="299.70" stroke="#333" stroke-width="1.15" />
<line x1="434.05" y1="485.40" x2="434.05" y2="487.60" stroke="#333" stroke-width="1.15" />
<line x1="468.10" y1="297.20" x2="468.10" y2="299.70" stroke="#333" stroke-width="1.15" />
<line x1="468.10" y1="485.40" x2="468.10" y2="489.20" stroke="#333" stroke-width="1.15" />
<line x1="502.15" y1="297.20" x2="502.15" y2="299.70" stroke="#333" stroke-width="1.15" />
<line x1="502.15" y1="485.40" x2="502.15" y2="487.60" stroke="#333" stroke-width="1.15" />
<line x1="536.20" y1="297.20" x2="536.20" y2="299.70" stroke="#333" stroke-width="1.15" />
<line x1="536.20" y1="485.40" x2="536.20" y2="489.20" stroke="#333" stroke-width="1.15" />
<line x1="369.70" y1="316.03" x2="372.50" y2="316.03" stroke="#333" stroke-width="1.15" />
<line x1="559.10" y1="316.03" x2="562.70" y2="316.03" stroke="#333" stroke-width="1.15" />
<line x1="369.70" y1="334.86" x2="372.50" y2="334.86" stroke="#333" stroke-width="1.15" />
<line x1="559.10" y1="334.86" x2="562.70" y2="334.86" stroke="#333" stroke-width="1.15" />
<line x1="369.70" y1="353.69" x2="372.50" y2="353.69" stroke="#333" stroke-width="1.15" />
<line x1="559.10" y1="353.69" x2="562.70" y2="353.69" stroke="#333" stroke-width="1.15" />
<line x1="369.70" y1="372.52" x2="372.50" y2="372.52" stroke="#333" stroke-width="1.15" />
<line x1="559.10" y1="372.52" x2="562.70" y2="372.52" stroke="#333" stroke-width="1.15" />
<line x1="369.70" y1="391.35" x2="372.50" y2="391.35" stroke="#333" stroke-width="1.15" />
<line x1="559.10" y1="391.35" x2="562.70" y2="391.35" stroke="#333" stroke-width="1.15" />
<line x1="369.70" y1="410.18" x2="372.50" y2="410.18" stroke="#333" stroke-width="1.15" />
<line x1="559.10" y1="410.18" x2="562.70" y2="410.18" stroke="#333" stroke-width="1.15" />
<line x1="369.70" y1="429.01" x2="372.50" y2="429.01" stroke="#333" stroke-width="1.15" />
<line x1="559.10" y1="429.01" x2="562.70" y2="429.01" stroke="#333" stroke-width="1.15" />
<line x1="369.70" y1="447.84" x2="372.50" y2="447.84" stroke="#333" stroke-width="1.15" />
<line x1="559.10" y1="447.84" x2="562.70" y2="447.84" stroke="#333" stroke-width="1.15" />
<line x1="369.70" y1="466.67" x2="372.50" y2="466.67" stroke="#333" stroke-width="1.15" />
<line x1="559.10" y1="466.67" x2="562.70" y2="466.67" stroke="#333" stroke-width="1.15" />
<text transform="translate(399.40,516.60) scale(1,1.04)" font-size="28" text-anchor="middle" fill="#000" >-1</text>
<text transform="translate(468.10,516.60) scale(1,1.04)" font-size="28" text-anchor="middle" fill="#000" >0</text>
<text transform="translate(536.20,516.60) scale(1,1.04)" font-size="28" text-anchor="middle" fill="#000" >1</text>
<circle cx="372.00" cy="323.70" r="1.6" fill="#000"/>
<circle cx="371.02" cy="324.12" r="1.6" fill="#000"/>
<circle cx="372.80" cy="323.14" r="1.6" fill="#000"/>
<circle cx="372.50" cy="328.70" r="1.6" fill="#000"/>
<circle cx="371.44" cy="328.63" r="1.6" fill="#000"/>
<circle cx="372.88" cy="329.91" r="1.6" fill="#000"/>
<circle cx="374.60" cy="330.20" r="1.6" fill="#000"/>
<circle cx="373.63" cy="328.78" r="1.6" fill="#000"/>
<circle cx="375.16" cy="330.72" r="1.6" fill="#000"/>
<circle cx="375.60" cy="340.40" r="1.6" fill="#000"/>
<circle cx="376.83" cy="341.48" r="1.6" fill="#000"/>
<circle cx="375.52" cy="340.10" r="1.6" fill="#000"/>
<circle cx="377.60" cy="331.80" r="1.6" fill="#000"/>
<circle cx="379.66" cy="331.48" r="1.6" fill="#000"/>
<circle cx="376.97" cy="330.55" r="1.6" fill="#000"/>
<circle cx="378.60" cy="326.20" r="1.6" fill="#000"/>
<circle cx="378.68" cy="326.36" r="1.6" fill="#000"/>
<circle cx="378.32" cy="326.13" r="1.6" fill="#000"/>
<circle cx="380.10" cy="326.70" r="1.6" fill="#000"/>
<circle cx="380.32" cy="327.46" r="1.6" fill="#000"/>
<circle cx="380.98" cy="326.93" r="1.6" fill="#000"/>
<circle cx="381.60" cy="330.20" r="1.6" fill="#000"/>
<circle cx="380.17" cy="330.97" r="1.6" fill="#000"/>
<circle cx="380.46" cy="330.01" r="1.6" fill="#000"/>
<circle cx="383.70" cy="339.30" r="1.6" fill="#000"/>
<circle cx="382.52" cy="339.30" r="1.6" fill="#000"/>
<circle cx="383.08" cy="339.54" r="1.6" fill="#000"/>
<circle cx="385.70" cy="320.60" r="1.6" fill="#000"/>
<circle cx="388.34" cy="320.55" r="1.6" fill="#000"/>
<circle cx="386.37" cy="319.14" r="1.6" fill="#000"/>
<circle cx="385.70" cy="326.20" r="1.6" fill="#000"/>
<circle cx="385.47" cy="326.93" r="1.6" fill="#000"/>
<circle cx="385.63" cy="326.61" r="1.6" fill="#000"/>
<circle cx="386.70" cy="331.80" r="1.6" fill="#000"/>
<circle cx="386.78" cy="330.69" r="1.6" fill="#000"/>
<circle cx="387.15" cy="330.91" r="1.6" fill="#000"/>
<circle cx="388.20" cy="334.30" r="1.6" fill="#000"/>
<circle cx="389.70" cy="333.74" r="1.6" fill="#000"/>
<circle cx="388.75" cy="334.30" r="1.6" fill="#000"/>
<circle cx="389.70" cy="337.30" r="1.6" fill="#000"/>
<circle cx="390.46" cy="336.64" r="1.6" fill="#000"/>
<circle cx="390.50" cy="337.16" r="1.6" fill="#000"/>
<circle cx="390.70" cy="342.40" r="1.6" fill="#000"/>
<circle cx="391.71" cy="343.09" r="1.6" fill="#000"/>
<circle cx="390.81" cy="341.54" r="1.6" fill="#000"/>
<circle cx="392.80" cy="341.40" r="1.6" fill="#000"/>
<circle cx="393.41" cy="341.91" r="1.6" fill="#000"/>
<circle cx="394.11" cy="340.99" r="1.6" fill="#000"/>
<circle cx="394.80" cy="335.30" r="1.6" fill="#000"/>
<circle cx="395.24" cy="335.86" r="1.6" fill="#000"/>
<circle cx="395.03" cy="335.53" r="1.6" fill="#000"/>
<circle cx="396.80" cy="331.80" r="1.6" fill="#000"/>
<circle cx="396.95" cy="331.14" r="1.6" fill="#000"/>
<circle cx="395.99" cy="331.36" r="1.6" fill="#000"/>
<circle cx="398.30" cy="334.30" r="1.6" fill="#000"/>
<circle cx="398.77" cy="335.96" r="1.6" fill="#000"/>
<circle cx="399.08" cy="335.46" r="1.6" fill="#000"/>
<circle cx="399.30" cy="342.40" r="1.6" fill="#000"/>
<circle cx="399.92" cy="343.17" r="1.6" fill="#000"/>
<circle cx="399.45" cy="343.25" r="1.6" fill="#000"/>
<circle cx="401.40" cy="336.30" r="1.6" fill="#000"/>
<circle cx="402.82" cy="335.94" r="1.6" fill="#000"/>
<circle cx="400.84" cy="338.46" r="1.6" fill="#000"/>
<circle cx="403.40" cy="343.40" r="1.6" fill="#000"/>
<circle cx="403.60" cy="344.47" r="1.6" fill="#000"/>
<circle cx="404.10" cy="342.15" r="1.6" fill="#000"/>
<circle cx="404.90" cy="342.40" r="1.6" fill="#000"/>
<circle cx="406.85" cy="344.35" r="1.6" fill="#000"/>
<circle cx="405.04" cy="343.23" r="1.6" fill="#000"/>
<circle cx="407.40" cy="352.00" r="1.6" fill="#000"/>
<circle cx="407.50" cy="351.03" r="1.6" fill="#000"/>
<circle cx="407.31" cy="352.41" r="1.6" fill="#000"/>
<circle cx="410.00" cy="353.00" r="1.6" fill="#000"/>
<circle cx="410.89" cy="353.78" r="1.6" fill="#000"/>
<circle cx="410.05" cy="354.49" r="1.6" fill="#000"/>
<circle cx="411.50" cy="345.40" r="1.6" fill="#000"/>
<circle cx="410.89" cy="346.27" r="1.6" fill="#000"/>
<circle cx="412.39" cy="345.08" r="1.6" fill="#000"/>
<circle cx="413.00" cy="351.50" r="1.6" fill="#000"/>
<circle cx="411.57" cy="350.50" r="1.6" fill="#000"/>
<circle cx="413.19" cy="352.08" r="1.6" fill="#000"/>
<circle cx="414.50" cy="342.40" r="1.6" fill="#000"/>
<circle cx="415.74" cy="341.30" r="1.6" fill="#000"/>
<circle cx="414.50" cy="343.11" r="1.6" fill="#000"/>
<circle cx="416.50" cy="334.30" r="1.6" fill="#000"/>
<circle cx="416.37" cy="331.69" r="1.6" fill="#000"/>
<circle cx="417.15" cy="336.84" r="1.6" fill="#000"/>
<circle cx="418.10" cy="339.30" r="1.6" fill="#000"/>
<circle cx="418.90" cy="338.29" r="1.6" fill="#000"/>
<circle cx="417.77" cy="339.54" r="1.6" fill="#000"/>
<circle cx="420.60" cy="347.90" r="1.6" fill="#000"/>
<circle cx="422.59" cy="348.58" r="1.6" fill="#000"/>
<circle cx="420.69" cy="349.61" r="1.6" fill="#000"/>
<circle cx="420.10" cy="343.40" r="1.6" fill="#000"/>
<circle cx="420.03" cy="345.45" r="1.6" fill="#000"/>
<circle cx="419.55" cy="342.88" r="1.6" fill="#000"/>
<circle cx="422.60" cy="338.30" r="1.6" fill="#000"/>
<circle cx="423.18" cy="339.87" r="1.6" fill="#000"/>
<circle cx="423.12" cy="338.63" r="1.6" fill="#000"/>
<circle cx="424.60" cy="329.20" r="1.6" fill="#000"/>
<circle cx="423.14" cy="328.42" r="1.6" fill="#000"/>
<circle cx="424.11" cy="328.61" r="1.6" fill="#000"/>
<circle cx="425.80" cy="328.50" r="1.6" fill="#000"/>
<circle cx="426.27" cy="328.13" r="1.6" fill="#000"/>
<circle cx="426.43" cy="328.59" r="1.6" fill="#000"/>
<circle cx="427.20" cy="335.30" r="1.6" fill="#000"/>
<circle cx="426.93" cy="335.43" r="1.6" fill="#000"/>
<circle cx="427.54" cy="336.24" r="1.6" fill="#000"/>
<circle cx="428.40" cy="334.40" r="1.6" fill="#000"/>
<circle cx="428.02" cy="334.14" r="1.6" fill="#000"/>
<circle cx="427.31" cy="336.16" r="1.6" fill="#000"/>
<circle cx="430.50" cy="329.30" r="1.6" fill="#000"/>
<circle cx="431.66" cy="329.10" r="1.6" fill="#000"/>
<circle cx="430.12" cy="327.94" r="1.6" fill="#000"/>
<circle cx="432.60" cy="335.20" r="1.6" fill="#000"/>
<circle cx="432.74" cy="335.43" r="1.6" fill="#000"/>
<circle cx="434.35" cy="335.47" r="1.6" fill="#000"/>
<circle cx="434.30" cy="342.80" r="1.6" fill="#000"/>
<circle cx="433.68" cy="340.11" r="1.6" fill="#000"/>
<circle cx="435.43" cy="343.01" r="1.6" fill="#000"/>
<circle cx="434.70" cy="345.40" r="1.6" fill="#000"/>
<circle cx="433.41" cy="345.60" r="1.6" fill="#000"/>
<circle cx="433.41" cy="349.23" r="1.6" fill="#000"/>
<circle cx="436.80" cy="331.90" r="1.6" fill="#000"/>
<circle cx="437.70" cy="332.53" r="1.6" fill="#000"/>
<circle cx="436.66" cy="329.55" r="1.6" fill="#000"/>
<circle cx="439.80" cy="328.50" r="1.6" fill="#000"/>
<circle cx="439.70" cy="326.79" r="1.6" fill="#000"/>
<circle cx="440.28" cy="326.15" r="1.6" fill="#000"/>
<circle cx="441.90" cy="331.90" r="1.6" fill="#000"/>
<circle cx="441.17" cy="333.24" r="1.6" fill="#000"/>
<circle cx="443.22" cy="330.60" r="1.6" fill="#000"/>
<circle cx="442.30" cy="339.50" r="1.6" fill="#000"/>
<circle cx="441.07" cy="340.47" r="1.6" fill="#000"/>
<circle cx="442.98" cy="338.41" r="1.6" fill="#000"/>
<circle cx="443.10" cy="343.70" r="1.6" fill="#000"/>
<circle cx="442.54" cy="342.94" r="1.6" fill="#000"/>
<circle cx="442.15" cy="342.95" r="1.6" fill="#000"/>
<circle cx="445.20" cy="347.00" r="1.6" fill="#000"/>
<circle cx="446.20" cy="347.76" r="1.6" fill="#000"/>
<circle cx="446.85" cy="346.91" r="1.6" fill="#000"/>
<circle cx="446.90" cy="349.60" r="1.6" fill="#000"/>
<circle cx="446.79" cy="348.52" r="1.6" fill="#000"/>
<circle cx="446.80" cy="348.16" r="1.6" fill="#000"/>
<circle cx="446.90" cy="357.20" r="1.6" fill="#000"/>
<circle cx="445.48" cy="357.97" r="1.6" fill="#000"/>
<circle cx="448.05" cy="358.12" r="1.6" fill="#000"/>
<circle cx="448.60" cy="351.30" r="1.6" fill="#000"/>
<circle cx="449.67" cy="351.58" r="1.6" fill="#000"/>
<circle cx="448.03" cy="351.39" r="1.6" fill="#000"/>
<circle cx="450.30" cy="343.70" r="1.6" fill="#000"/>
<circle cx="450.00" cy="342.48" r="1.6" fill="#000"/>
<circle cx="448.95" cy="342.07" r="1.6" fill="#000"/>
<circle cx="451.60" cy="337.80" r="1.6" fill="#000"/>
<circle cx="451.60" cy="337.97" r="1.6" fill="#000"/>
<circle cx="451.22" cy="339.37" r="1.6" fill="#000"/>
<circle cx="452.00" cy="348.70" r="1.6" fill="#000"/>
<circle cx="452.14" cy="349.34" r="1.6" fill="#000"/>
<circle cx="452.97" cy="347.80" r="1.6" fill="#000"/>
<circle cx="453.70" cy="354.60" r="1.6" fill="#000"/>
<circle cx="452.12" cy="355.43" r="1.6" fill="#000"/>
<circle cx="453.15" cy="356.04" r="1.6" fill="#000"/>
<circle cx="455.80" cy="358.00" r="1.6" fill="#000"/>
<circle cx="456.07" cy="359.11" r="1.6" fill="#000"/>
<circle cx="456.41" cy="355.71" r="1.6" fill="#000"/>
<circle cx="457.50" cy="362.20" r="1.6" fill="#000"/>
<circle cx="458.08" cy="361.46" r="1.6" fill="#000"/>
<circle cx="456.90" cy="361.72" r="1.6" fill="#000"/>
<circle cx="487.20" cy="358.60" r="1.6" fill="#000"/>
<circle cx="487.81" cy="359.57" r="1.6" fill="#000"/>
<circle cx="488.01" cy="356.77" r="1.6" fill="#000"/>
<circle cx="487.70" cy="351.00" r="1.6" fill="#000"/>
<circle cx="487.23" cy="348.39" r="1.6" fill="#000"/>
<circle cx="487.62" cy="351.66" r="1.6" fill="#000"/>
<circle cx="489.70" cy="333.30" r="1.6" fill="#000"/>
<circle cx="489.09" cy="333.57" r="1.6" fill="#000"/>
<circle cx="489.89" cy="334.41" r="1.6" fill="#000"/>
<circle cx="489.70" cy="340.40" r="1.6" fill="#000"/>
<circle cx="489.04" cy="339.49" r="1.6" fill="#000"/>
<circle cx="489.09" cy="342.33" r="1.6" fill="#000"/>
<circle cx="492.30" cy="341.40" r="1.6" fill="#000"/>
<circle cx="493.17" cy="341.26" r="1.6" fill="#000"/>
<circle cx="492.48" cy="341.53" r="1.6" fill="#000"/>
<circle cx="493.30" cy="349.50" r="1.6" fill="#000"/>
<circle cx="493.46" cy="349.27" r="1.6" fill="#000"/>
<circle cx="493.03" cy="348.12" r="1.6" fill="#000"/>
<circle cx="496.30" cy="354.50" r="1.6" fill="#000"/>
<circle cx="495.79" cy="356.32" r="1.6" fill="#000"/>
<circle cx="496.73" cy="354.57" r="1.6" fill="#000"/>
<circle cx="496.80" cy="359.60" r="1.6" fill="#000"/>
<circle cx="496.63" cy="359.67" r="1.6" fill="#000"/>
<circle cx="497.08" cy="358.89" r="1.6" fill="#000"/>
<circle cx="499.30" cy="349.50" r="1.6" fill="#000"/>
<circle cx="499.46" cy="349.76" r="1.6" fill="#000"/>
<circle cx="498.70" cy="348.63" r="1.6" fill="#000"/>
<circle cx="501.40" cy="346.40" r="1.6" fill="#000"/>
<circle cx="500.60" cy="345.23" r="1.6" fill="#000"/>
<circle cx="502.11" cy="343.80" r="1.6" fill="#000"/>
<circle cx="502.40" cy="338.30" r="1.6" fill="#000"/>
<circle cx="502.19" cy="337.63" r="1.6" fill="#000"/>
<circle cx="501.90" cy="338.41" r="1.6" fill="#000"/>
<circle cx="503.40" cy="330.20" r="1.6" fill="#000"/>
<circle cx="504.30" cy="330.28" r="1.6" fill="#000"/>
<circle cx="503.29" cy="329.53" r="1.6" fill="#000"/>
<circle cx="503.40" cy="323.70" r="1.6" fill="#000"/>
<circle cx="503.30" cy="324.70" r="1.6" fill="#000"/>
<circle cx="503.08" cy="322.44" r="1.6" fill="#000"/>
<circle cx="504.90" cy="335.30" r="1.6" fill="#000"/>
<circle cx="503.89" cy="334.08" r="1.6" fill="#000"/>
<circle cx="503.79" cy="336.51" r="1.6" fill="#000"/>
<circle cx="506.40" cy="348.40" r="1.6" fill="#000"/>
<circle cx="506.68" cy="348.14" r="1.6" fill="#000"/>
<circle cx="507.57" cy="347.68" r="1.6" fill="#000"/>
<circle cx="509.00" cy="342.40" r="1.6" fill="#000"/>
<circle cx="509.60" cy="343.28" r="1.6" fill="#000"/>
<circle cx="507.76" cy="340.69" r="1.6" fill="#000"/>
<circle cx="511.00" cy="351.50" r="1.6" fill="#000"/>
<circle cx="510.26" cy="352.50" r="1.6" fill="#000"/>
<circle cx="512.04" cy="350.15" r="1.6" fill="#000"/>
<circle cx="513.50" cy="347.40" r="1.6" fill="#000"/>
<circle cx="514.34" cy="346.98" r="1.6" fill="#000"/>
<circle cx="513.19" cy="346.79" r="1.6" fill="#000"/>
<circle cx="515.50" cy="353.50" r="1.6" fill="#000"/>
<circle cx="515.24" cy="351.50" r="1.6" fill="#000"/>
<circle cx="514.70" cy="352.14" r="1.6" fill="#000"/>
<circle cx="517.60" cy="361.60" r="1.6" fill="#000"/>
<circle cx="517.99" cy="363.90" r="1.6" fill="#000"/>
<circle cx="519.79" cy="361.23" r="1.6" fill="#000"/>
<circle cx="520.60" cy="362.60" r="1.6" fill="#000"/>
<circle cx="519.22" cy="362.15" r="1.6" fill="#000"/>
<circle cx="519.85" cy="364.78" r="1.6" fill="#000"/>
<circle cx="522.60" cy="353.50" r="1.6" fill="#000"/>
<circle cx="523.06" cy="352.70" r="1.6" fill="#000"/>
<circle cx="523.35" cy="354.09" r="1.6" fill="#000"/>
<circle cx="523.80" cy="334.50" r="1.6" fill="#000"/>
<circle cx="522.50" cy="333.92" r="1.6" fill="#000"/>
<circle cx="523.61" cy="334.52" r="1.6" fill="#000"/>
<circle cx="523.40" cy="340.40" r="1.6" fill="#000"/>
<circle cx="523.51" cy="340.03" r="1.6" fill="#000"/>
<circle cx="523.55" cy="339.76" r="1.6" fill="#000"/>
<circle cx="523.00" cy="345.00" r="1.6" fill="#000"/>
<circle cx="522.28" cy="346.67" r="1.6" fill="#000"/>
<circle cx="523.29" cy="345.48" r="1.6" fill="#000"/>
<circle cx="522.50" cy="353.80" r="1.6" fill="#000"/>
<circle cx="521.22" cy="353.62" r="1.6" fill="#000"/>
<circle cx="523.16" cy="352.38" r="1.6" fill="#000"/>
<circle cx="526.70" cy="352.20" r="1.6" fill="#000"/>
<circle cx="527.58" cy="351.77" r="1.6" fill="#000"/>
<circle cx="527.02" cy="352.05" r="1.6" fill="#000"/>
<circle cx="528.00" cy="347.90" r="1.6" fill="#000"/>
<circle cx="528.17" cy="349.22" r="1.6" fill="#000"/>
<circle cx="527.68" cy="349.62" r="1.6" fill="#000"/>
<circle cx="530.50" cy="337.80" r="1.6" fill="#000"/>
<circle cx="529.87" cy="336.78" r="1.6" fill="#000"/>
<circle cx="531.07" cy="336.63" r="1.6" fill="#000"/>
<circle cx="532.60" cy="342.00" r="1.6" fill="#000"/>
<circle cx="532.30" cy="343.00" r="1.6" fill="#000"/>
<circle cx="533.57" cy="340.05" r="1.6" fill="#000"/>
<circle cx="535.20" cy="339.50" r="1.6" fill="#000"/>
<circle cx="535.60" cy="341.57" r="1.6" fill="#000"/>
<circle cx="536.16" cy="339.24" r="1.6" fill="#000"/>
<circle cx="537.70" cy="342.00" r="1.6" fill="#000"/>
<circle cx="537.22" cy="341.67" r="1.6" fill="#000"/>
<circle cx="536.78" cy="341.71" r="1.6" fill="#000"/>
<circle cx="539.40" cy="347.10" r="1.6" fill="#000"/>
<circle cx="539.25" cy="346.94" r="1.6" fill="#000"/>
<circle cx="540.35" cy="346.85" r="1.6" fill="#000"/>
<circle cx="541.90" cy="345.40" r="1.6" fill="#000"/>
<circle cx="540.73" cy="346.56" r="1.6" fill="#000"/>
<circle cx="541.04" cy="344.91" r="1.6" fill="#000"/>
<circle cx="542.80" cy="351.30" r="1.6" fill="#000"/>
<circle cx="542.69" cy="350.92" r="1.6" fill="#000"/>
<circle cx="542.00" cy="351.03" r="1.6" fill="#000"/>
<circle cx="545.30" cy="353.80" r="1.6" fill="#000"/>
<circle cx="547.05" cy="353.13" r="1.6" fill="#000"/>
<circle cx="545.19" cy="355.04" r="1.6" fill="#000"/>
<circle cx="544.90" cy="357.20" r="1.6" fill="#000"/>
<circle cx="545.50" cy="358.04" r="1.6" fill="#000"/>
<circle cx="545.59" cy="355.04" r="1.6" fill="#000"/>
<circle cx="546.10" cy="347.10" r="1.6" fill="#000"/>
<circle cx="545.41" cy="347.24" r="1.6" fill="#000"/>
<circle cx="546.50" cy="348.52" r="1.6" fill="#000"/>
<circle cx="547.80" cy="342.00" r="1.6" fill="#000"/>
<circle cx="548.18" cy="341.74" r="1.6" fill="#000"/>
<circle cx="547.83" cy="341.77" r="1.6" fill="#000"/>
<circle cx="549.90" cy="336.60" r="1.6" fill="#000"/>
<circle cx="550.10" cy="337.34" r="1.6" fill="#000"/>
<circle cx="549.63" cy="335.71" r="1.6" fill="#000"/>
<circle cx="551.20" cy="341.20" r="1.6" fill="#000"/>
<circle cx="550.52" cy="342.41" r="1.6" fill="#000"/>
<circle cx="552.22" cy="342.29" r="1.6" fill="#000"/>
<circle cx="553.70" cy="341.20" r="1.6" fill="#000"/>
<circle cx="554.39" cy="342.12" r="1.6" fill="#000"/>
<circle cx="553.70" cy="341.93" r="1.6" fill="#000"/>
<circle cx="555.40" cy="344.60" r="1.6" fill="#000"/>
<circle cx="554.56" cy="344.38" r="1.6" fill="#000"/>
<circle cx="554.81" cy="345.40" r="1.6" fill="#000"/>
<circle cx="554.60" cy="350.50" r="1.6" fill="#000"/>
<circle cx="554.14" cy="350.38" r="1.6" fill="#000"/>
<circle cx="554.92" cy="351.99" r="1.6" fill="#000"/>
<circle cx="555.00" cy="355.50" r="1.6" fill="#000"/>
<circle cx="554.37" cy="354.47" r="1.6" fill="#000"/>
<circle cx="555.65" cy="354.28" r="1.6" fill="#000"/>
<circle cx="557.10" cy="341.20" r="1.6" fill="#000"/>
<circle cx="557.46" cy="340.57" r="1.6" fill="#000"/>
<circle cx="557.02" cy="339.20" r="1.6" fill="#000"/>
<circle cx="558.80" cy="348.80" r="1.6" fill="#000"/>
<circle cx="559.37" cy="348.25" r="1.6" fill="#000"/>
<circle cx="558.08" cy="351.08" r="1.6" fill="#000"/>
<circle cx="559.60" cy="353.00" r="1.6" fill="#000"/>
<circle cx="560.17" cy="356.86" r="1.6" fill="#000"/>
<circle cx="559.93" cy="352.62" r="1.6" fill="#000"/>
<circle cx="560.90" cy="336.10" r="1.6" fill="#000"/>
<circle cx="560.99" cy="337.87" r="1.6" fill="#000"/>
<circle cx="560.88" cy="336.60" r="1.6" fill="#000"/>
<circle cx="562.20" cy="330.70" r="1.6" fill="#000"/>
<circle cx="562.61" cy="329.70" r="1.6" fill="#000"/>
<circle cx="562.30" cy="330.15" r="1.6" fill="#000"/>
<circle cx="562.60" cy="337.00" r="1.6" fill="#000"/>
<circle cx="561.60" cy="337.96" r="1.6" fill="#000"/>
<circle cx="563.13" cy="337.08" r="1.6" fill="#000"/>
<circle cx="443.39" cy="347.32" r="1.55" fill="#000"/>
<circle cx="446.10" cy="350.76" r="1.55" fill="#000"/>
<circle cx="444.10" cy="350.57" r="1.55" fill="#000"/>
<circle cx="446.66" cy="351.22" r="1.55" fill="#000"/>
<circle cx="445.29" cy="351.01" r="1.55" fill="#000"/>
<circle cx="447.54" cy="352.54" r="1.55" fill="#000"/>
<circle cx="449.34" cy="349.96" r="1.55" fill="#000"/>
<circle cx="448.58" cy="353.63" r="1.55" fill="#000"/>
<circle cx="447.17" cy="354.82" r="1.55" fill="#000"/>
<circle cx="448.17" cy="355.36" r="1.55" fill="#000"/>
<circle cx="449.83" cy="355.81" r="1.55" fill="#000"/>
<circle cx="450.99" cy="356.43" r="1.55" fill="#000"/>
<circle cx="451.06" cy="356.87" r="1.55" fill="#000"/>
<circle cx="452.22" cy="359.71" r="1.55" fill="#000"/>
<circle cx="453.45" cy="358.25" r="1.55" fill="#000"/>
<circle cx="453.52" cy="359.61" r="1.55" fill="#000"/>
<circle cx="451.98" cy="361.14" r="1.55" fill="#000"/>
<circle cx="454.06" cy="362.93" r="1.55" fill="#000"/>
<circle cx="454.42" cy="363.85" r="1.55" fill="#000"/>
<circle cx="453.22" cy="368.77" r="1.55" fill="#000"/>
<circle cx="455.22" cy="368.24" r="1.55" fill="#000"/>
<circle cx="455.05" cy="373.06" r="1.55" fill="#000"/>
<circle cx="456.21" cy="374.51" r="1.55" fill="#000"/>
<circle cx="456.26" cy="376.06" r="1.55" fill="#000"/>
<circle cx="458.12" cy="379.85" r="1.55" fill="#000"/>
<circle cx="457.59" cy="381.52" r="1.55" fill="#000"/>
<circle cx="457.94" cy="382.89" r="1.55" fill="#000"/>
<circle cx="458.69" cy="385.90" r="1.55" fill="#000"/>
<circle cx="460.65" cy="390.88" r="1.55" fill="#000"/>
<circle cx="460.94" cy="393.82" r="1.55" fill="#000"/>
<circle cx="462.20" cy="398.10" r="1.55" fill="#000"/>
<circle cx="462.68" cy="401.72" r="1.55" fill="#000"/>
<circle cx="461.47" cy="405.99" r="1.55" fill="#000"/>
<circle cx="460.18" cy="410.47" r="1.55" fill="#000"/>
<circle cx="464.21" cy="415.96" r="1.55" fill="#000"/>
<circle cx="464.65" cy="420.38" r="1.55" fill="#000"/>
<circle cx="466.02" cy="426.79" r="1.55" fill="#000"/>
<circle cx="464.25" cy="428.61" r="1.55" fill="#000"/>
<circle cx="467.21" cy="430.50" r="1.55" fill="#000"/>
<circle cx="465.83" cy="433.41" r="1.55" fill="#000"/>
<circle cx="466.35" cy="435.05" r="1.55" fill="#000"/>
<circle cx="467.41" cy="437.01" r="1.55" fill="#000"/>
<circle cx="467.95" cy="439.11" r="1.55" fill="#000"/>
<circle cx="468.38" cy="438.61" r="1.55" fill="#000"/>
<circle cx="469.05" cy="439.65" r="1.55" fill="#000"/>
<circle cx="470.20" cy="438.82" r="1.55" fill="#000"/>
<circle cx="469.38" cy="437.20" r="1.55" fill="#000"/>
<circle cx="471.30" cy="434.47" r="1.55" fill="#000"/>
<circle cx="471.76" cy="427.87" r="1.55" fill="#000"/>
<circle cx="473.32" cy="422.72" r="1.55" fill="#000"/>
<circle cx="472.24" cy="420.39" r="1.55" fill="#000"/>
<circle cx="474.80" cy="418.42" r="1.55" fill="#000"/>
<circle cx="472.39" cy="415.62" r="1.55" fill="#000"/>
<circle cx="474.33" cy="412.46" r="1.55" fill="#000"/>
<circle cx="475.19" cy="406.13" r="1.55" fill="#000"/>
<circle cx="477.41" cy="401.47" r="1.55" fill="#000"/>
<circle cx="477.89" cy="400.31" r="1.55" fill="#000"/>
<circle cx="476.07" cy="393.89" r="1.55" fill="#000"/>
<circle cx="476.69" cy="390.55" r="1.55" fill="#000"/>
<circle cx="476.60" cy="387.04" r="1.55" fill="#000"/>
<circle cx="478.27" cy="388.73" r="1.55" fill="#000"/>
<circle cx="479.19" cy="382.00" r="1.55" fill="#000"/>
<circle cx="479.18" cy="381.45" r="1.55" fill="#000"/>
<circle cx="481.03" cy="378.42" r="1.55" fill="#000"/>
<circle cx="481.71" cy="376.84" r="1.55" fill="#000"/>
<circle cx="480.14" cy="373.06" r="1.55" fill="#000"/>
<circle cx="481.65" cy="372.63" r="1.55" fill="#000"/>
<circle cx="482.27" cy="369.15" r="1.55" fill="#000"/>
<circle cx="482.99" cy="366.91" r="1.55" fill="#000"/>
<circle cx="483.35" cy="367.25" r="1.55" fill="#000"/>
<circle cx="483.92" cy="364.07" r="1.55" fill="#000"/>
<circle cx="485.12" cy="363.30" r="1.55" fill="#000"/>
<circle cx="484.65" cy="359.72" r="1.55" fill="#000"/>
<circle cx="484.88" cy="361.13" r="1.55" fill="#000"/>
<circle cx="486.32" cy="359.52" r="1.55" fill="#000"/>
<circle cx="484.83" cy="358.36" r="1.55" fill="#000"/>
<circle cx="487.02" cy="356.98" r="1.55" fill="#000"/>
<circle cx="487.14" cy="356.28" r="1.55" fill="#000"/>
<circle cx="487.58" cy="354.35" r="1.55" fill="#000"/>
<circle cx="488.95" cy="355.90" r="1.55" fill="#000"/>
<circle cx="488.57" cy="354.61" r="1.55" fill="#000"/>
<circle cx="487.34" cy="352.44" r="1.55" fill="#000"/>
<circle cx="491.30" cy="351.93" r="1.55" fill="#000"/>
<circle cx="466.30" cy="441.60" r="1.55" fill="#000"/>
<circle cx="465.20" cy="437.50" r="1.55" fill="#000"/>
<circle cx="467.50" cy="434.00" r="1.55" fill="#000"/>
<circle cx="470.50" cy="436.00" r="1.55" fill="#000"/>
<circle cx="471.50" cy="430.00" r="1.55" fill="#000"/>
<polyline points="372.88,338.36 373.22,338.37 373.56,338.38 373.90,338.38 374.24,338.39 374.58,338.40 374.92,338.40 375.26,338.41 375.60,338.41 375.94,338.42 376.28,338.43 376.62,338.43 376.97,338.44 377.31,338.45 377.65,338.46 377.99,338.46 378.33,338.47 378.67,338.48 379.01,338.48 379.35,338.49 379.69,338.50 380.03,338.51 380.37,338.51 380.71,338.52 381.05,338.53 381.39,338.54 381.73,338.55 382.07,338.55 382.41,338.56 382.75,338.57 383.09,338.58 383.43,338.59 383.78,338.60 384.12,338.61 384.46,338.61 384.80,338.62 385.14,338.63 385.48,338.64 385.82,338.65 386.16,338.66 386.50,338.67 386.84,338.68 387.18,338.69 387.52,338.70 387.86,338.71 388.20,338.72 388.54,338.73 388.88,338.74 389.22,338.75 389.56,338.76 389.90,338.77 390.24,338.78 390.59,338.79 390.93,338.80 391.27,338.82 391.61,338.83 391.95,338.84 392.29,338.85 392.63,338.86 392.97,338.87 393.31,338.89 393.65,338.90 393.99,338.91 394.33,338.92 394.67,338.94 395.01,338.95 395.35,338.96 395.69,338.98 396.03,338.99 396.37,339.00 396.71,339.02 397.05,339.03 397.40,339.05 397.74,339.06 398.08,339.08 398.42,339.09 398.76,339.11 399.10,339.12 399.44,339.14 399.78,339.15 400.12,339.17 400.46,339.19 400.80,339.20 401.14,339.22 401.48,339.24 401.82,339.25 402.16,339.27 402.50,339.29 402.84,339.31 403.18,339.33 403.52,339.35 403.86,339.36 404.21,339.38 404.55,339.40 404.89,339.42 405.23,339.44 405.57,339.46 405.91,339.49 406.25,339.51 406.59,339.53 406.93,339.55 407.27,339.57 407.61,339.59 407.95,339.62 408.29,339.64 408.63,339.66 408.97,339.69 409.31,339.71 409.65,339.74 409.99,339.76 410.33,339.79 410.67,339.82 411.02,339.84 411.36,339.87 411.70,339.90 412.04,339.93 412.38,339.95 412.72,339.98 413.06,340.01 413.40,340.04 413.74,340.07 414.08,340.11 414.42,340.14 414.76,340.17 415.10,340.20 415.44,340.24 415.78,340.27 416.12,340.31 416.46,340.34 416.80,340.38 417.14,340.41 417.48,340.45 417.83,340.49 418.17,340.53 418.51,340.57 418.85,340.61 419.19,340.65 419.53,340.69 419.87,340.74 420.21,340.78 420.55,340.82 420.89,340.87 421.23,340.92 421.57,340.97 421.91,341.01 422.25,341.06 422.59,341.11 422.93,341.17 423.27,341.22 423.61,341.27 423.95,341.33 424.29,341.38 424.64,341.44 424.98,341.50 425.32,341.56 425.66,341.62 426.00,341.69 426.34,341.75 426.68,341.82 427.02,341.88 427.36,341.95 427.70,342.02 428.04,342.10 428.38,342.17 428.72,342.25 429.06,342.32 429.40,342.40 429.74,342.48 430.08,342.57 430.42,342.65 430.76,342.74 431.10,342.83 431.45,342.92 431.79,343.02 432.13,343.12 432.47,343.21 432.81,343.32 433.15,343.42 433.49,343.53 433.83,343.64 434.17,343.75 434.51,343.87 434.85,343.99 435.19,344.11 435.53,344.24 435.87,344.37 436.21,344.50 436.55,344.64 436.89,344.78 437.23,344.93 437.57,345.08 437.91,345.24 438.26,345.40 438.60,345.56 438.94,345.73 439.28,345.90 439.62,346.08 439.96,346.27 440.30,346.46 440.64,346.66 440.98,346.86 441.32,347.07 441.66,347.29 442.00,347.52 442.34,347.75 442.68,347.99 443.02,348.24 443.36,348.50 443.70,348.76 444.04,349.04 444.38,349.32 444.72,349.62 445.07,349.93 445.41,350.24 445.75,350.57 446.09,350.92 446.43,351.27 446.77,351.64 447.11,352.02 447.45,352.42 447.79,352.83 448.13,353.26 448.47,353.70 448.81,354.17 449.15,354.65 449.49,355.15 449.83,355.68 450.17,356.22 450.51,356.79 450.85,357.38 451.19,358.00 451.53,358.64 451.88,359.32 452.22,360.02 452.56,360.75 452.90,361.52 453.24,362.32 453.58,363.15 453.92,364.03 454.26,364.94 454.60,365.90 454.94,366.90 455.28,367.94 455.62,369.04 455.96,370.18 456.30,371.38 456.64,372.64 456.98,373.95 457.32,375.32 457.66,376.76 458.00,378.26 458.34,379.83 458.69,381.47 459.03,383.18 459.37,384.96 459.71,386.82 460.05,388.75 460.39,390.76 460.73,392.84 461.07,395.00 461.41,397.23 461.75,399.53 462.09,401.90 462.43,404.32 462.77,406.79 463.11,409.30 463.45,411.85 463.79,414.40 464.13,416.96 464.47,419.50 464.81,422.00 465.15,424.44 465.50,426.79 465.84,429.03 466.18,431.14 466.52,433.07 466.86,434.82 467.20,436.34 467.54,437.63 467.88,438.65 468.22,439.40 468.56,439.85 468.90,440.00 469.24,439.85 469.58,439.40 469.92,438.65 470.26,437.63 470.60,436.34 470.94,434.82 471.28,433.07 471.62,431.14 471.96,429.03 472.31,426.79 472.65,424.44 472.99,422.00 473.33,419.50 473.67,416.96 474.01,414.40 474.35,411.85 474.69,409.30 475.03,406.79 475.37,404.32 475.71,401.90 476.05,399.53 476.39,397.23 476.73,395.00 477.07,392.84 477.41,390.76 477.75,388.75 478.09,386.82 478.43,384.96 478.77,383.18 479.12,381.47 479.46,379.83 479.80,378.26 480.14,376.76 480.48,375.32 480.82,373.95 481.16,372.64 481.50,371.38 481.84,370.18 482.18,369.04 482.52,367.94 482.86,366.90 483.20,365.90 483.54,364.94 483.88,364.03 484.22,363.15 484.56,362.32 484.90,361.52 485.24,360.75 485.58,360.02 485.93,359.32 486.27,358.64 486.61,358.00 486.95,357.38 487.29,356.79 487.63,356.22 487.97,355.68 488.31,355.15 488.65,354.65 488.99,354.17 489.33,353.70 489.67,353.26 490.01,352.83 490.35,352.42 490.69,352.02 491.03,351.64 491.37,351.27 491.71,350.92 492.05,350.57 492.39,350.24 492.74,349.93 493.08,349.62 493.42,349.32 493.76,349.04 494.10,348.76 494.44,348.50 494.78,348.24 495.12,347.99 495.46,347.75 495.80,347.52 496.14,347.29 496.48,347.07 496.82,346.86 497.16,346.66 497.50,346.46 497.84,346.27 498.18,346.08 498.52,345.90 498.86,345.73 499.20,345.56 499.55,345.40 499.89,345.24 500.23,345.08 500.57,344.93 500.91,344.78 501.25,344.64 501.59,344.50 501.93,344.37 502.27,344.24 502.61,344.11 502.95,343.99 503.29,343.87 503.63,343.75 503.97,343.64 504.31,343.53 504.65,343.42 504.99,343.32 505.33,343.21 505.67,343.12 506.01,343.02 506.36,342.92 506.70,342.83 507.04,342.74 507.38,342.65 507.72,342.57 508.06,342.48 508.40,342.40 508.74,342.32 509.08,342.25 509.42,342.17 509.76,342.10 510.10,342.02 510.44,341.95 510.78,341.88 511.12,341.82 511.46,341.75 511.80,341.69 512.14,341.62 512.48,341.56 512.82,341.50 513.16,341.44 513.51,341.38 513.85,341.33 514.19,341.27 514.53,341.22 514.87,341.17 515.21,341.11 515.55,341.06 515.89,341.01 516.23,340.97 516.57,340.92 516.91,340.87 517.25,340.82 517.59,340.78 517.93,340.74 518.27,340.69 518.61,340.65 518.95,340.61 519.29,340.57 519.63,340.53 519.98,340.49 520.32,340.45 520.66,340.41 521.00,340.38 521.34,340.34 521.68,340.31 522.02,340.27 522.36,340.24 522.70,340.20 523.04,340.17 523.38,340.14 523.72,340.11 524.06,340.07 524.40,340.04 524.74,340.01 525.08,339.98 525.42,339.95 525.76,339.93 526.10,339.90 526.44,339.87 526.78,339.84 527.13,339.82 527.47,339.79 527.81,339.76 528.15,339.74 528.49,339.71 528.83,339.69 529.17,339.66 529.51,339.64 529.85,339.62 530.19,339.59 530.53,339.57 530.87,339.55 531.21,339.53 531.55,339.51 531.89,339.49 532.23,339.46 532.57,339.44 532.91,339.42 533.25,339.40 533.60,339.38 533.94,339.36 534.28,339.35 534.62,339.33 534.96,339.31 535.30,339.29 535.64,339.27 535.98,339.25 536.32,339.24 536.66,339.22 537.00,339.20 537.34,339.19 537.68,339.17 538.02,339.15 538.36,339.14 538.70,339.12 539.04,339.11 539.38,339.09 539.72,339.08 540.06,339.06 540.40,339.05 540.75,339.03 541.09,339.02 541.43,339.00 541.77,338.99 542.11,338.98 542.45,338.96 542.79,338.95 543.13,338.94 543.47,338.92 543.81,338.91 544.15,338.90 544.49,338.89 544.83,338.87 545.17,338.86 545.51,338.85 545.85,338.84 546.19,338.83 546.53,338.82 546.87,338.80 547.21,338.79 547.56,338.78 547.90,338.77 548.24,338.76 548.58,338.75 548.92,338.74 549.26,338.73 549.60,338.72 549.94,338.71 550.28,338.70 550.62,338.69 550.96,338.68 551.30,338.67 551.64,338.66 551.98,338.65 552.32,338.64 552.66,338.63 553.00,338.62 553.34,338.61 553.68,338.61 554.02,338.60 554.37,338.59 554.71,338.58 555.05,338.57 555.39,338.56 555.73,338.55 556.07,338.55 556.41,338.54 556.75,338.53 557.09,338.52 557.43,338.51 557.77,338.51 558.11,338.50 558.45,338.49 558.79,338.48 559.13,338.48 559.47,338.47 559.81,338.46 560.15,338.46 560.49,338.45 560.84,338.44 561.18,338.43 561.52,338.43 561.86,338.42 562.20,338.41 562.54,338.41 562.88,338.40 563.22,338.40 563.56,338.39 563.90,338.38 564.24,338.38 564.58,338.37 564.92,338.36" fill="none" stroke="#ff2a2a" stroke-width="1.0" stroke-linejoin="round" stroke-linecap="round" stroke-dasharray="5,1"/>
<line x1="432.10" y1="389.40" x2="446.30" y2="389.40" stroke="#0000ff" stroke-width="2.0" />
<polygon points="446.30,382.00 461.50,389.40 446.30,396.80" fill="#0000ff"/>
<line x1="491.90" y1="389.40" x2="505.00" y2="389.40" stroke="#0000ff" stroke-width="2.0" />
<polygon points="491.90,382.00 476.70,389.40 491.90,396.80" fill="#0000ff"/>
<text transform="translate(430.00,472.30) scale(1,1.04)" font-size="29.5" text-anchor="start" fill="#0000ff" >0.26 mT</text>
<rect x="685.0" y="53.5" width="302.6" height="454.1" fill="none" stroke="#000" stroke-width="1.8"/>
<line x1="685.40" y1="507.60" x2="685.40" y2="516.20" stroke="#000" stroke-width="1.6" />
<line x1="685.40" y1="53.50" x2="685.40" y2="62.10" stroke="#000" stroke-width="1.6" />
<line x1="715.71" y1="507.60" x2="715.71" y2="511.80" stroke="#000" stroke-width="1.6" />
<line x1="715.71" y1="53.50" x2="715.71" y2="57.70" stroke="#000" stroke-width="1.6" />
<line x1="733.45" y1="507.60" x2="733.45" y2="511.80" stroke="#000" stroke-width="1.6" />
<line x1="733.45" y1="53.50" x2="733.45" y2="57.70" stroke="#000" stroke-width="1.6" />
<line x1="746.03" y1="507.60" x2="746.03" y2="511.80" stroke="#000" stroke-width="1.6" />
<line x1="746.03" y1="53.50" x2="746.03" y2="57.70" stroke="#000" stroke-width="1.6" />
<line x1="755.79" y1="507.60" x2="755.79" y2="511.80" stroke="#000" stroke-width="1.6" />
<line x1="755.79" y1="53.50" x2="755.79" y2="57.70" stroke="#000" stroke-width="1.6" />
<line x1="763.76" y1="507.60" x2="763.76" y2="511.80" stroke="#000" stroke-width="1.6" />
<line x1="763.76" y1="53.50" x2="763.76" y2="57.70" stroke="#000" stroke-width="1.6" />
<line x1="770.50" y1="507.60" x2="770.50" y2="511.80" stroke="#000" stroke-width="1.6" />
<line x1="770.50" y1="53.50" x2="770.50" y2="57.70" stroke="#000" stroke-width="1.6" />
<line x1="776.34" y1="507.60" x2="776.34" y2="511.80" stroke="#000" stroke-width="1.6" />
<line x1="776.34" y1="53.50" x2="776.34" y2="57.70" stroke="#000" stroke-width="1.6" />
<line x1="781.49" y1="507.60" x2="781.49" y2="511.80" stroke="#000" stroke-width="1.6" />
<line x1="781.49" y1="53.50" x2="781.49" y2="57.70" stroke="#000" stroke-width="1.6" />
<line x1="786.10" y1="507.60" x2="786.10" y2="516.20" stroke="#000" stroke-width="1.6" />
<line x1="786.10" y1="53.50" x2="786.10" y2="62.10" stroke="#000" stroke-width="1.6" />
<line x1="816.41" y1="507.60" x2="816.41" y2="511.80" stroke="#000" stroke-width="1.6" />
<line x1="816.41" y1="53.50" x2="816.41" y2="57.70" stroke="#000" stroke-width="1.6" />
<line x1="834.15" y1="507.60" x2="834.15" y2="511.80" stroke="#000" stroke-width="1.6" />
<line x1="834.15" y1="53.50" x2="834.15" y2="57.70" stroke="#000" stroke-width="1.6" />
<line x1="846.73" y1="507.60" x2="846.73" y2="511.80" stroke="#000" stroke-width="1.6" />
<line x1="846.73" y1="53.50" x2="846.73" y2="57.70" stroke="#000" stroke-width="1.6" />
<line x1="856.49" y1="507.60" x2="856.49" y2="511.80" stroke="#000" stroke-width="1.6" />
<line x1="856.49" y1="53.50" x2="856.49" y2="57.70" stroke="#000" stroke-width="1.6" />
<line x1="864.46" y1="507.60" x2="864.46" y2="511.80" stroke="#000" stroke-width="1.6" />
<line x1="864.46" y1="53.50" x2="864.46" y2="57.70" stroke="#000" stroke-width="1.6" />
<line x1="871.20" y1="507.60" x2="871.20" y2="511.80" stroke="#000" stroke-width="1.6" />
<line x1="871.20" y1="53.50" x2="871.20" y2="57.70" stroke="#000" stroke-width="1.6" />
<line x1="877.04" y1="507.60" x2="877.04" y2="511.80" stroke="#000" stroke-width="1.6" />
<line x1="877.04" y1="53.50" x2="877.04" y2="57.70" stroke="#000" stroke-width="1.6" />
<line x1="882.19" y1="507.60" x2="882.19" y2="511.80" stroke="#000" stroke-width="1.6" />
<line x1="882.19" y1="53.50" x2="882.19" y2="57.70" stroke="#000" stroke-width="1.6" />
<line x1="886.80" y1="507.60" x2="886.80" y2="516.20" stroke="#000" stroke-width="1.6" />
<line x1="886.80" y1="53.50" x2="886.80" y2="62.10" stroke="#000" stroke-width="1.6" />
<line x1="917.11" y1="507.60" x2="917.11" y2="511.80" stroke="#000" stroke-width="1.6" />
<line x1="917.11" y1="53.50" x2="917.11" y2="57.70" stroke="#000" stroke-width="1.6" />
<line x1="934.85" y1="507.60" x2="934.85" y2="511.80" stroke="#000" stroke-width="1.6" />
<line x1="934.85" y1="53.50" x2="934.85" y2="57.70" stroke="#000" stroke-width="1.6" />
<line x1="947.43" y1="507.60" x2="947.43" y2="511.80" stroke="#000" stroke-width="1.6" />
<line x1="947.43" y1="53.50" x2="947.43" y2="57.70" stroke="#000" stroke-width="1.6" />
<line x1="957.19" y1="507.60" x2="957.19" y2="511.80" stroke="#000" stroke-width="1.6" />
<line x1="957.19" y1="53.50" x2="957.19" y2="57.70" stroke="#000" stroke-width="1.6" />
<line x1="965.16" y1="507.60" x2="965.16" y2="511.80" stroke="#000" stroke-width="1.6" />
<line x1="965.16" y1="53.50" x2="965.16" y2="57.70" stroke="#000" stroke-width="1.6" />
<line x1="971.90" y1="507.60" x2="971.90" y2="511.80" stroke="#000" stroke-width="1.6" />
<line x1="971.90" y1="53.50" x2="971.90" y2="57.70" stroke="#000" stroke-width="1.6" />
<line x1="977.74" y1="507.60" x2="977.74" y2="511.80" stroke="#000" stroke-width="1.6" />
<line x1="977.74" y1="53.50" x2="977.74" y2="57.70" stroke="#000" stroke-width="1.6" />
<line x1="982.89" y1="507.60" x2="982.89" y2="511.80" stroke="#000" stroke-width="1.6" />
<line x1="982.89" y1="53.50" x2="982.89" y2="57.70" stroke="#000" stroke-width="1.6" />
<line x1="676.50" y1="507.60" x2="685.00" y2="507.60" stroke="#000" stroke-width="1.6" />
<line x1="979.10" y1="507.60" x2="987.60" y2="507.60" stroke="#000" stroke-width="1.6" />
<line x1="681.00" y1="473.43" x2="685.00" y2="473.43" stroke="#000" stroke-width="1.6" />
<line x1="983.60" y1="473.43" x2="987.60" y2="473.43" stroke="#000" stroke-width="1.6" />
<line x1="681.00" y1="453.45" x2="685.00" y2="453.45" stroke="#000" stroke-width="1.6" />
<line x1="983.60" y1="453.45" x2="987.60" y2="453.45" stroke="#000" stroke-width="1.6" />
<line x1="681.00" y1="439.27" x2="685.00" y2="439.27" stroke="#000" stroke-width="1.6" />
<line x1="983.60" y1="439.27" x2="987.60" y2="439.27" stroke="#000" stroke-width="1.6" />
<line x1="681.00" y1="428.27" x2="685.00" y2="428.27" stroke="#000" stroke-width="1.6" />
<line x1="983.60" y1="428.27" x2="987.60" y2="428.27" stroke="#000" stroke-width="1.6" />
<line x1="681.00" y1="419.28" x2="685.00" y2="419.28" stroke="#000" stroke-width="1.6" />
<line x1="983.60" y1="419.28" x2="987.60" y2="419.28" stroke="#000" stroke-width="1.6" />
<line x1="681.00" y1="411.68" x2="685.00" y2="411.68" stroke="#000" stroke-width="1.6" />
<line x1="983.60" y1="411.68" x2="987.60" y2="411.68" stroke="#000" stroke-width="1.6" />
<line x1="681.00" y1="405.10" x2="685.00" y2="405.10" stroke="#000" stroke-width="1.6" />
<line x1="983.60" y1="405.10" x2="987.60" y2="405.10" stroke="#000" stroke-width="1.6" />
<line x1="681.00" y1="399.29" x2="685.00" y2="399.29" stroke="#000" stroke-width="1.6" />
<line x1="983.60" y1="399.29" x2="987.60" y2="399.29" stroke="#000" stroke-width="1.6" />
<line x1="676.50" y1="394.10" x2="685.00" y2="394.10" stroke="#000" stroke-width="1.6" />
<line x1="979.10" y1="394.10" x2="987.60" y2="394.10" stroke="#000" stroke-width="1.6" />
<line x1="681.00" y1="359.93" x2="685.00" y2="359.93" stroke="#000" stroke-width="1.6" />
<line x1="983.60" y1="359.93" x2="987.60" y2="359.93" stroke="#000" stroke-width="1.6" />
<line x1="681.00" y1="339.95" x2="685.00" y2="339.95" stroke="#000" stroke-width="1.6" />
<line x1="983.60" y1="339.95" x2="987.60" y2="339.95" stroke="#000" stroke-width="1.6" />
<line x1="681.00" y1="325.77" x2="685.00" y2="325.77" stroke="#000" stroke-width="1.6" />
<line x1="983.60" y1="325.77" x2="987.60" y2="325.77" stroke="#000" stroke-width="1.6" />
<line x1="681.00" y1="314.77" x2="685.00" y2="314.77" stroke="#000" stroke-width="1.6" />
<line x1="983.60" y1="314.77" x2="987.60" y2="314.77" stroke="#000" stroke-width="1.6" />
<line x1="681.00" y1="305.78" x2="685.00" y2="305.78" stroke="#000" stroke-width="1.6" />
<line x1="983.60" y1="305.78" x2="987.60" y2="305.78" stroke="#000" stroke-width="1.6" />
<line x1="681.00" y1="298.18" x2="685.00" y2="298.18" stroke="#000" stroke-width="1.6" />
<line x1="983.60" y1="298.18" x2="987.60" y2="298.18" stroke="#000" stroke-width="1.6" />
<line x1="681.00" y1="291.60" x2="685.00" y2="291.60" stroke="#000" stroke-width="1.6" />
<line x1="983.60" y1="291.60" x2="987.60" y2="291.60" stroke="#000" stroke-width="1.6" />
<line x1="681.00" y1="285.79" x2="685.00" y2="285.79" stroke="#000" stroke-width="1.6" />
<line x1="983.60" y1="285.79" x2="987.60" y2="285.79" stroke="#000" stroke-width="1.6" />
<line x1="676.50" y1="280.60" x2="685.00" y2="280.60" stroke="#000" stroke-width="1.6" />
<line x1="979.10" y1="280.60" x2="987.60" y2="280.60" stroke="#000" stroke-width="1.6" />
<line x1="681.00" y1="246.43" x2="685.00" y2="246.43" stroke="#000" stroke-width="1.6" />
<line x1="983.60" y1="246.43" x2="987.60" y2="246.43" stroke="#000" stroke-width="1.6" />
<line x1="681.00" y1="226.45" x2="685.00" y2="226.45" stroke="#000" stroke-width="1.6" />
<line x1="983.60" y1="226.45" x2="987.60" y2="226.45" stroke="#000" stroke-width="1.6" />
<line x1="681.00" y1="212.27" x2="685.00" y2="212.27" stroke="#000" stroke-width="1.6" />
<line x1="983.60" y1="212.27" x2="987.60" y2="212.27" stroke="#000" stroke-width="1.6" />
<line x1="681.00" y1="201.27" x2="685.00" y2="201.27" stroke="#000" stroke-width="1.6" />
<line x1="983.60" y1="201.27" x2="987.60" y2="201.27" stroke="#000" stroke-width="1.6" />
<line x1="681.00" y1="192.28" x2="685.00" y2="192.28" stroke="#000" stroke-width="1.6" />
<line x1="983.60" y1="192.28" x2="987.60" y2="192.28" stroke="#000" stroke-width="1.6" />
<line x1="681.00" y1="184.68" x2="685.00" y2="184.68" stroke="#000" stroke-width="1.6" />
<line x1="983.60" y1="184.68" x2="987.60" y2="184.68" stroke="#000" stroke-width="1.6" />
<line x1="681.00" y1="178.10" x2="685.00" y2="178.10" stroke="#000" stroke-width="1.6" />
<line x1="983.60" y1="178.10" x2="987.60" y2="178.10" stroke="#000" stroke-width="1.6" />
<line x1="681.00" y1="172.29" x2="685.00" y2="172.29" stroke="#000" stroke-width="1.6" />
<line x1="983.60" y1="172.29" x2="987.60" y2="172.29" stroke="#000" stroke-width="1.6" />
<line x1="676.50" y1="167.10" x2="685.00" y2="167.10" stroke="#000" stroke-width="1.6" />
<line x1="979.10" y1="167.10" x2="987.60" y2="167.10" stroke="#000" stroke-width="1.6" />
<line x1="681.00" y1="132.93" x2="685.00" y2="132.93" stroke="#000" stroke-width="1.6" />
<line x1="983.60" y1="132.93" x2="987.60" y2="132.93" stroke="#000" stroke-width="1.6" />
<line x1="681.00" y1="112.95" x2="685.00" y2="112.95" stroke="#000" stroke-width="1.6" />
<line x1="983.60" y1="112.95" x2="987.60" y2="112.95" stroke="#000" stroke-width="1.6" />
<line x1="681.00" y1="98.77" x2="685.00" y2="98.77" stroke="#000" stroke-width="1.6" />
<line x1="983.60" y1="98.77" x2="987.60" y2="98.77" stroke="#000" stroke-width="1.6" />
<line x1="681.00" y1="87.77" x2="685.00" y2="87.77" stroke="#000" stroke-width="1.6" />
<line x1="983.60" y1="87.77" x2="987.60" y2="87.77" stroke="#000" stroke-width="1.6" />
<line x1="681.00" y1="78.78" x2="685.00" y2="78.78" stroke="#000" stroke-width="1.6" />
<line x1="983.60" y1="78.78" x2="987.60" y2="78.78" stroke="#000" stroke-width="1.6" />
<line x1="681.00" y1="71.18" x2="685.00" y2="71.18" stroke="#000" stroke-width="1.6" />
<line x1="983.60" y1="71.18" x2="987.60" y2="71.18" stroke="#000" stroke-width="1.6" />
<line x1="681.00" y1="64.60" x2="685.00" y2="64.60" stroke="#000" stroke-width="1.6" />
<line x1="983.60" y1="64.60" x2="987.60" y2="64.60" stroke="#000" stroke-width="1.6" />
<line x1="681.00" y1="58.79" x2="685.00" y2="58.79" stroke="#000" stroke-width="1.6" />
<line x1="983.60" y1="58.79" x2="987.60" y2="58.79" stroke="#000" stroke-width="1.6" />
<line x1="676.50" y1="53.60" x2="685.00" y2="53.60" stroke="#000" stroke-width="1.6" />
<line x1="979.10" y1="53.60" x2="987.60" y2="53.60" stroke="#000" stroke-width="1.6" />
<text transform="translate(672.60,64.10) scale(1,1.04)" font-size="29.5" text-anchor="end" fill="#000" >1000</text>
<text transform="translate(672.60,177.60) scale(1,1.04)" font-size="29.5" text-anchor="end" fill="#000" >100</text>
<text transform="translate(672.60,291.10) scale(1,1.04)" font-size="29.5" text-anchor="end" fill="#000" >10</text>
<text transform="translate(670.10,404.60) scale(1,1.04)" font-size="29.5" text-anchor="end" fill="#000" >1</text>
<text transform="translate(670.10,518.10) scale(1,1.04)" font-size="29.5" text-anchor="end" fill="#000" >0.1</text>
<text transform="translate(684.40,548.80) scale(1,1.04)" font-size="29.5" text-anchor="middle" fill="#000" >1</text>
<text transform="translate(786.60,548.80) scale(1,1.04)" font-size="29.5" text-anchor="middle" fill="#000" >10</text>
<text transform="translate(887.30,548.80) scale(1,1.04)" font-size="29.5" text-anchor="middle" fill="#000" >100</text>
<text transform="translate(676.00,39.80) scale(1,1.04)" font-size="39" text-anchor="start" fill="#000" >c</text>
<text transform="translate(697.40,39.80) scale(1,1.04)" font-size="39.5" text-anchor="start" fill="#000" >)</text>
<text transform="translate(609.6,326.0) rotate(-90) skewX(-20) scale(1,0.97)" font-size="29.8">Width</text>
<text transform="translate(610.3,231.9) rotate(-90) scale(1,1.04)" font-size="27">(mT)</text>
<text transform="translate(787.5,578.9) skewX(-20) scale(1,1.04)" font-size="28">I</text>
<text transform="translate(797.60,590.60) scale(1,1.04)" font-size="19.5" text-anchor="start" fill="#000" >SD</text>
<text transform="translate(828.30,582.50) scale(1,1.04)" font-size="29.8" text-anchor="start" fill="#000" >(pA)</text>
<rect x="703.8" y="67.3" width="217.7" height="61" fill="#fff" stroke="#666" stroke-width="1.2"/>
<circle cx="719.8" cy="83.3" r="6.4" fill="none" stroke="#0000ff" stroke-width="1.4"/>
<rect x="713.5" y="104.8" width="11.8" height="11.8" fill="none" stroke="#ff2a2a" stroke-width="1.4"/>
<text transform="translate(736.00,92.80) scale(1,1.04)" font-size="24.8" text-anchor="start" fill="#000" >Dip Width (mT)</text>
<text transform="translate(736.00,121.60) scale(1,1.04)" font-size="24.8" text-anchor="start" fill="#000" >Peak Width (mT)</text>
<line x1="685.40" y1="453.45" x2="987.60" y2="112.95" stroke="#0000ff" stroke-width="1.9"/>
<line x1="684.9" y1="233.2" x2="987.1" y2="233.2" stroke="#ff0000" stroke-width="2.0" stroke-dasharray="6.5,8.42" stroke-dashoffset="0"/>
<circle cx="757.9" cy="453.5" r="6.3" fill="none" stroke="#0000ff" stroke-width="1.4"/>
<circle cx="770.7" cy="359" r="6.3" fill="none" stroke="#0000ff" stroke-width="1.4"/>
<circle cx="766.5" cy="369.1" r="6.3" fill="none" stroke="#0000ff" stroke-width="1.4"/>
<circle cx="787.9" cy="348.5" r="6.3" fill="none" stroke="#0000ff" stroke-width="1.4"/>
<circle cx="789.3" cy="365.3" r="6.3" fill="none" stroke="#0000ff" stroke-width="1.4"/>
<circle cx="891.1" cy="175.4" r="6.3" fill="none" stroke="#0000ff" stroke-width="1.4"/>
<circle cx="937.3" cy="135.3" r="6.3" fill="none" stroke="#0000ff" stroke-width="1.4"/>
<circle cx="958.6" cy="135.3" r="6.3" fill="none" stroke="#0000ff" stroke-width="1.4"/>
<rect x="760.90" y="224.20" width="11.4" height="11.6" fill="none" stroke="#ff2a2a" stroke-width="1.4"/>
<rect x="765.00" y="238.10" width="11.4" height="11.6" fill="none" stroke="#ff2a2a" stroke-width="1.4"/>
<rect x="751.90" y="253.10" width="11.4" height="11.6" fill="none" stroke="#ff2a2a" stroke-width="1.4"/>
<rect x="782.30" y="226.60" width="11.4" height="11.6" fill="none" stroke="#ff2a2a" stroke-width="1.4"/>
<rect x="784.00" y="235.80" width="11.4" height="11.6" fill="none" stroke="#ff2a2a" stroke-width="1.4"/>
<circle cx="404" cy="282.7" r="0.7" fill="#888"/>
</svg>
</body></html>
